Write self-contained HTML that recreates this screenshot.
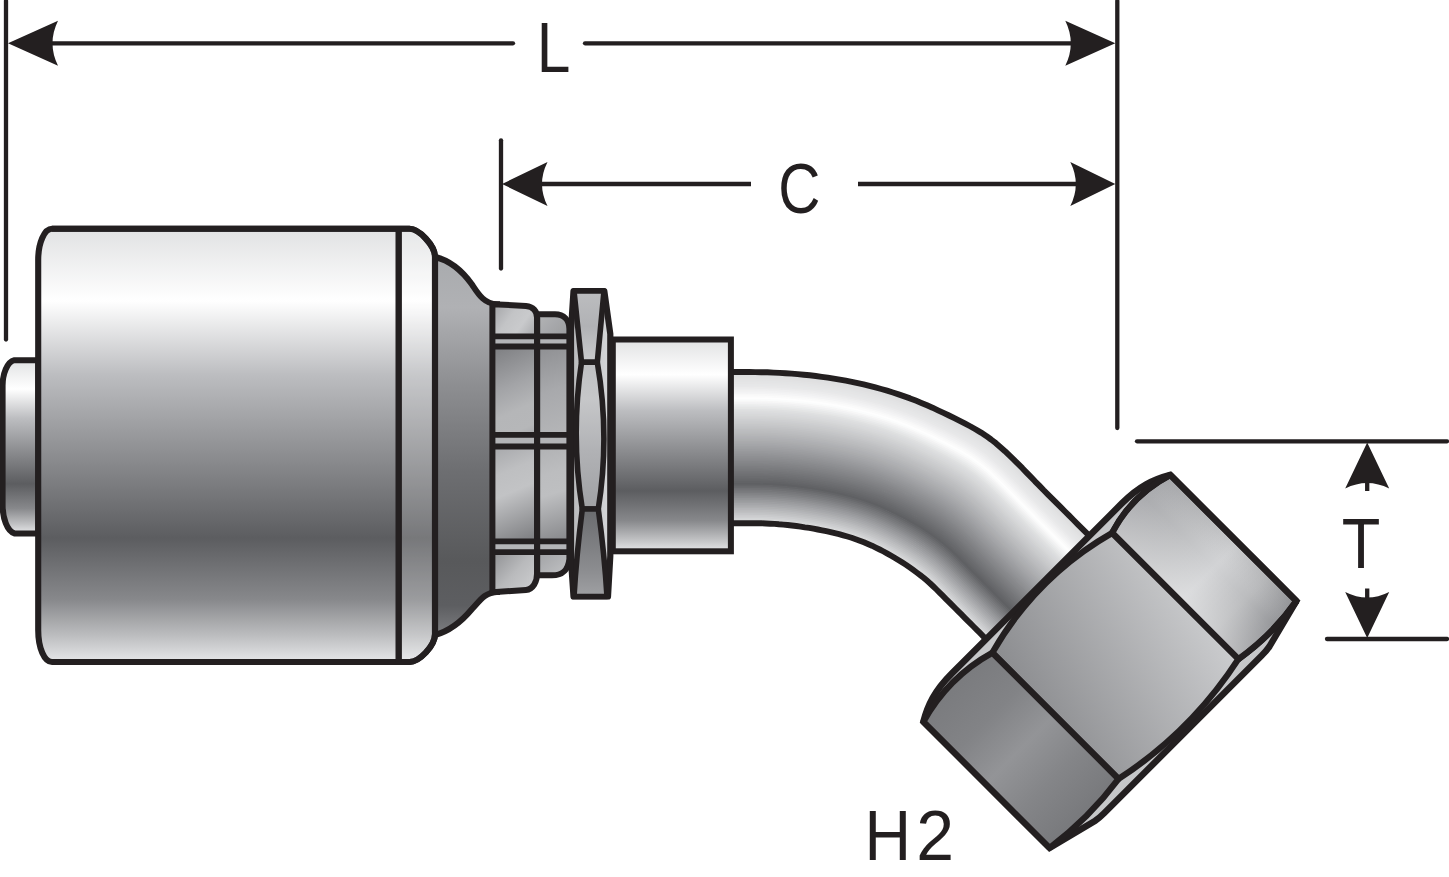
<!DOCTYPE html>
<html><head><meta charset="utf-8"><title>Hose fitting diagram</title>
<style>html,body{margin:0;padding:0;background:#fff}svg{display:block}text{font-family:"Liberation Sans",sans-serif}</style>
</head><body>
<svg width="1449" height="877" viewBox="0 0 1449 877">
<defs><linearGradient id="gBody" gradientUnits="userSpaceOnUse" x1="0" y1="229" x2="0" y2="662"><stop offset="0" stop-color="#e1e2e3"/><stop offset="0.166" stop-color="#ffffff"/><stop offset="0.337" stop-color="#bcbdc0"/><stop offset="0.5" stop-color="#929396"/><stop offset="0.714" stop-color="#5c5d60"/><stop offset="0.855" stop-color="#87888b"/><stop offset="0.94" stop-color="#bdbec0"/><stop offset="0.985" stop-color="#dcdddf"/><stop offset="1" stop-color="#e6e7e8"/></linearGradient><linearGradient id="gStub" gradientUnits="userSpaceOnUse" x1="0" y1="360.2" x2="0" y2="533.4"><stop offset="0" stop-color="#e1e2e3"/><stop offset="0.166" stop-color="#ffffff"/><stop offset="0.337" stop-color="#bcbdc0"/><stop offset="0.5" stop-color="#929396"/><stop offset="0.714" stop-color="#5c5d60"/><stop offset="0.855" stop-color="#87888b"/><stop offset="0.94" stop-color="#bdbec0"/><stop offset="0.985" stop-color="#dcdddf"/><stop offset="1" stop-color="#e6e7e8"/></linearGradient><linearGradient id="gCyl" gradientUnits="userSpaceOnUse" x1="0" y1="339.5" x2="0" y2="551.3"><stop offset="0" stop-color="#e1e2e3"/><stop offset="0.166" stop-color="#ffffff"/><stop offset="0.337" stop-color="#bcbdc0"/><stop offset="0.5" stop-color="#929396"/><stop offset="0.714" stop-color="#5c5d60"/><stop offset="0.855" stop-color="#87888b"/><stop offset="0.94" stop-color="#bdbec0"/><stop offset="0.985" stop-color="#dcdddf"/><stop offset="1" stop-color="#e6e7e8"/></linearGradient><linearGradient id="gSh" gradientUnits="userSpaceOnUse" x1="0" y1="258" x2="0" y2="633"><stop offset="0" stop-color="#a9abae"/><stop offset="0.133" stop-color="#b0b1b4"/><stop offset="0.334" stop-color="#8e8f92"/><stop offset="0.571" stop-color="#6d6e71"/><stop offset="0.809" stop-color="#58595b"/><stop offset="0.927" stop-color="#5d5e61"/><stop offset="1" stop-color="#7b7c7f"/></linearGradient><linearGradient id="gF1" gradientUnits="userSpaceOnUse" x1="-88" y1="0" x2="88" y2="0"><stop offset="0" stop-color="#abacaf"/><stop offset="0.3" stop-color="#bfc0c2"/><stop offset="0.55" stop-color="#d2d3d5"/><stop offset="0.8" stop-color="#bbbcbe"/><stop offset="1" stop-color="#999a9d"/></linearGradient><linearGradient id="gF2" gradientUnits="userSpaceOnUse" x1="-24.9" y1="93.7" x2="28.7" y2="-107.7"><stop offset="0" stop-color="#8b8c8f"/><stop offset="1" stop-color="#cbccce"/></linearGradient><linearGradient id="gF1o" gradientUnits="userSpaceOnUse" x1="0" y1="-174" x2="0" y2="-92"><stop offset="0" stop-color="#000" stop-opacity="0.05"/><stop offset="0.4" stop-color="#fff" stop-opacity="0"/><stop offset="1" stop-color="#fff" stop-opacity="0.28"/></linearGradient><linearGradient id="gF3" gradientUnits="userSpaceOnUse" x1="-88" y1="0" x2="88" y2="0"><stop offset="0" stop-color="#7b7c7f"/><stop offset="0.25" stop-color="#828386"/><stop offset="0.5" stop-color="#939497"/><stop offset="0.75" stop-color="#848588"/><stop offset="1" stop-color="#797a7d"/></linearGradient></defs>
<rect width="1449" height="877" fill="#fff"/>
<!-- dimension lines -->
<g stroke="#231f20" stroke-width="4.3" fill="none" stroke-linecap="round">
<path d="M6 1V339.5"/>
<path d="M1117.3 1V428"/>
<path d="M501 140.3V268.5"/>
<path d="M40 43.3H513"/><path d="M585 43.3H1085"/>
<path d="M535 184H751" stroke-linecap="butt"/><path d="M858 184H1085" stroke-linecap="butt"/>
<path d="M1137 441.3H1447"/><path d="M1327 639H1447"/>
<path d="M1367.2 480V491" stroke-linecap="butt"/><path d="M1367.2 588.5V600" stroke-linecap="butt"/>
</g>
<path transform="translate(8 43.3) rotate(0)" d="M0 0 L50 -22.5 Q39.0 0 50 22.5Z" fill="#231f20"/><path transform="translate(1115.3 43.3) rotate(180)" d="M0 0 L50 -22.5 Q39.0 0 50 22.5Z" fill="#231f20"/>
<path transform="translate(502 184) rotate(0)" d="M0 0 L45.5 -22.0 Q34.5 0 45.5 22.0Z" fill="#231f20"/><path transform="translate(1115.3 184) rotate(180)" d="M0 0 L45 -22.0 Q34.0 0 45 22.0Z" fill="#231f20"/>
<path transform="translate(1367.2 442.5) rotate(90)" d="M0 0 L46 -22.0 Q35.0 0 46 22.0Z" fill="#231f20"/><path transform="translate(1367.2 638) rotate(-90)" d="M0 0 L46 -22.0 Q35.0 0 46 22.0Z" fill="#231f20"/>
<g font-family="Liberation Sans, sans-serif" font-size="71.2" fill="#231f20" text-anchor="middle">
<text transform="translate(553.6 72.1) scale(0.85 1)">L</text>
<text transform="translate(799.4 212.6) scale(0.82 1)">C</text>
<text transform="translate(1361 568) scale(0.887 1)">T</text>
<text transform="translate(887.7 860.4) scale(0.906 1)">H</text><text transform="translate(935.2 860.4) scale(0.954 1)">2</text>
</g>
<!-- stub -->
<path d="M38.3 360.2H14.4C7 362 2.6 374 2.6 385.5V505C2.6 518 7 531 14.4 533.4H38.3Z" fill="url(#gStub)" stroke="#231f20" stroke-width="6"/>
<!-- pipe -->
<path d="M731.0 372.0L743.0 372.0L754.9 372.1L766.9 372.3L778.9 372.8L790.8 373.6L802.7 374.6L814.6 375.9L826.5 377.4L838.3 379.3L850.1 381.5L861.8 384.0L873.4 386.8L884.9 390.0L896.3 393.6L907.6 397.5L918.8 401.8L929.8 406.5L940.7 411.5L951.4 416.8L962.1 422.1L972.7 427.7L983.0 433.8L992.8 440.8L1001.9 448.4L1010.7 456.6L1019.2 465.0L1027.6 473.6L1035.9 482.2L1044.3 490.7L1052.7 499.2L1061.2 507.7L1069.6 516.1L1078.1 524.6L1086.5 533.0L1095.0 541.5L1093.3 543.2L1084.9 534.8L1076.4 526.4L1068.0 518.0L1059.6 509.5L1051.2 501.1L1042.8 492.7L1034.4 484.2L1026.2 475.6L1017.8 467.1L1009.4 458.7L1000.6 450.6L991.5 443.0L981.8 436.1L971.6 430.0L961.1 424.4L950.4 419.0L939.7 413.8L928.9 408.9L917.9 404.2L906.8 399.9L895.6 396.0L884.2 392.5L872.7 389.3L861.1 386.4L849.5 383.9L837.8 381.8L826.0 379.9L814.2 378.4L802.4 377.1L790.5 376.1L778.6 375.3L766.7 374.8L754.8 374.6L742.9 374.5L731.0 374.5Z" fill="#dbdcdd"/>
<path d="M731.0 373.7L742.9 373.7L754.9 373.7L766.8 374.0L778.7 374.5L790.6 375.2L802.5 376.2L814.4 377.5L826.2 379.1L838.0 381.0L849.7 383.1L861.4 385.6L872.9 388.5L884.4 391.6L895.8 395.2L907.1 399.1L918.2 403.4L929.2 408.1L940.0 413.1L950.8 418.3L961.4 423.6L972.0 429.2L982.2 435.3L991.9 442.2L1001.1 449.9L1009.8 458.0L1018.3 466.4L1026.6 474.9L1034.9 483.5L1043.3 492.0L1051.7 500.5L1060.1 508.9L1068.6 517.3L1077.0 525.8L1085.4 534.2L1093.9 542.6L1092.1 544.4L1083.7 536.0L1075.3 527.6L1067.0 519.2L1058.6 510.8L1050.2 502.4L1041.8 494.0L1033.5 485.5L1025.2 477.0L1016.9 468.5L1008.5 460.1L999.8 452.1L990.7 444.4L981.0 437.6L970.8 431.5L960.3 425.9L949.7 420.6L939.0 415.4L928.3 410.4L917.3 405.8L906.3 401.5L895.0 397.6L883.7 394.1L872.3 390.9L860.7 388.1L849.1 385.6L837.5 383.4L825.7 381.6L814.0 380.0L802.2 378.7L790.3 377.7L778.5 377.0L766.6 376.5L754.7 376.3L742.9 376.2L731.0 376.2Z" fill="#dcddde"/>
<path d="M731.0 375.4L742.9 375.4L754.8 375.4L766.7 375.7L778.6 376.2L790.4 376.9L802.3 377.9L814.1 379.2L825.9 380.7L837.6 382.6L849.3 384.8L860.9 387.3L872.5 390.1L884.0 393.3L895.3 396.8L906.5 400.7L917.6 405.0L928.6 409.6L939.4 414.6L950.1 419.8L960.7 425.2L971.2 430.7L981.4 436.8L991.1 443.7L1000.2 451.3L1008.9 459.4L1017.4 467.8L1025.7 476.3L1034.0 484.8L1042.3 493.3L1050.7 501.7L1059.1 510.2L1067.5 518.6L1075.9 527.0L1084.3 535.4L1092.7 543.8L1091.0 545.5L1082.6 537.2L1074.3 528.8L1065.9 520.4L1057.5 512.0L1049.2 503.7L1040.8 495.3L1032.5 486.8L1024.3 478.3L1016.0 469.9L1007.6 461.5L998.9 453.5L989.8 445.9L980.2 439.1L970.0 433.0L959.6 427.4L949.0 422.1L938.4 416.9L927.6 412.0L916.8 407.3L905.7 403.1L894.5 399.2L883.2 395.7L871.8 392.5L860.3 389.7L848.8 387.2L837.1 385.1L825.4 383.2L813.7 381.7L801.9 380.4L790.1 379.4L778.3 378.7L766.5 378.2L754.7 377.9L742.8 377.9L731.0 377.9Z" fill="#dedfe0"/>
<path d="M731.0 377.0L742.9 377.0L754.7 377.1L766.6 377.3L778.4 377.8L790.2 378.6L802.0 379.6L813.8 380.8L825.6 382.4L837.3 384.3L848.9 386.4L860.5 388.9L872.0 391.7L883.5 394.9L894.8 398.4L906.0 402.3L917.0 406.6L928.0 411.2L938.7 416.2L949.4 421.3L960.0 426.7L970.4 432.2L980.6 438.3L990.3 445.2L999.4 452.8L1008.0 460.8L1016.5 469.2L1024.8 477.7L1033.0 486.2L1041.3 494.6L1049.7 503.0L1058.0 511.4L1066.4 519.8L1074.8 528.2L1083.2 536.6L1091.6 544.9L1089.8 546.7L1081.5 538.3L1073.2 530.0L1064.8 521.6L1056.5 513.3L1048.1 505.0L1039.8 496.6L1031.6 488.2L1023.3 479.7L1015.1 471.3L1006.7 463.0L998.1 454.9L989.0 447.4L979.4 440.5L969.3 434.5L958.9 429.0L948.3 423.6L937.7 418.5L927.0 413.5L916.2 408.9L905.2 404.7L894.0 400.8L882.8 397.3L871.4 394.1L859.9 391.3L848.4 388.9L836.8 386.7L825.1 384.9L813.4 383.3L801.7 382.1L790.0 381.1L778.2 380.4L766.4 379.9L754.6 379.6L742.8 379.6L731.0 379.6Z" fill="#e0e0e1"/>
<path d="M731.0 378.7L742.8 378.7L754.6 378.8L766.4 379.0L778.3 379.5L790.0 380.3L801.8 381.2L813.6 382.5L825.3 384.1L837.0 385.9L848.6 388.1L860.1 390.5L871.6 393.3L883.0 396.5L894.3 400.0L905.4 403.9L916.5 408.1L927.3 412.7L938.1 417.7L948.7 422.9L959.2 428.2L969.7 433.7L979.8 439.8L989.4 446.7L998.5 454.2L1007.2 462.3L1015.6 470.6L1023.8 479.0L1032.0 487.5L1040.3 495.9L1048.7 504.3L1057.0 512.7L1065.4 521.0L1073.7 529.4L1082.1 537.7L1090.4 546.1L1088.7 547.8L1080.4 539.5L1072.1 531.2L1063.8 522.9L1055.4 514.6L1047.1 506.2L1038.8 497.9L1030.6 489.5L1022.4 481.1L1014.2 472.6L1005.8 464.4L997.2 456.4L988.2 448.9L978.6 442.0L968.5 436.0L958.1 430.5L947.6 425.2L937.1 420.0L926.4 415.1L915.6 410.5L904.6 406.2L893.5 402.4L882.3 398.9L870.9 395.8L859.5 393.0L848.0 390.5L836.4 388.4L824.8 386.5L813.2 385.0L801.5 383.7L789.8 382.8L778.0 382.0L766.3 381.5L754.5 381.3L742.8 381.2L731.0 381.2Z" fill="#e2e2e3"/>
<path d="M731.0 380.4L742.8 380.4L754.6 380.4L766.3 380.7L778.1 381.2L789.9 381.9L801.6 382.9L813.3 384.2L825.0 385.7L836.6 387.5L848.2 389.7L859.7 392.2L871.2 394.9L882.5 398.1L893.8 401.6L904.9 405.4L915.9 409.7L926.7 414.3L937.4 419.2L948.0 424.4L958.5 429.7L968.9 435.2L979.0 441.3L988.6 448.1L997.6 455.7L1006.3 463.7L1014.7 472.0L1022.9 480.4L1031.1 488.9L1039.3 497.2L1047.6 505.6L1056.0 513.9L1064.3 522.3L1072.6 530.6L1080.9 538.9L1089.3 547.2L1087.6 549.0L1079.3 540.7L1071.0 532.4L1062.7 524.1L1054.4 515.8L1046.1 507.5L1037.9 499.2L1029.6 490.9L1021.5 482.4L1013.3 474.0L1005.0 465.8L996.4 457.8L987.3 450.3L977.8 443.5L967.8 437.5L957.4 432.0L947.0 426.7L936.4 421.6L925.8 416.6L915.0 412.0L904.1 407.8L893.0 404.0L881.8 400.5L870.5 397.4L859.1 394.6L847.6 392.2L836.1 390.0L824.5 388.2L812.9 386.7L801.3 385.4L789.6 384.4L777.9 383.7L766.2 383.2L754.4 383.0L742.7 382.9L731.0 382.9Z" fill="#e3e4e5"/>
<path d="M731.0 382.1L742.7 382.1L754.5 382.1L766.2 382.4L778.0 382.9L789.7 383.6L801.4 384.6L813.0 385.8L824.7 387.4L836.3 389.2L847.8 391.3L859.3 393.8L870.7 396.6L882.0 399.7L893.2 403.2L904.3 407.0L915.3 411.3L926.1 415.9L936.7 420.8L947.3 425.9L957.8 431.2L968.1 436.8L978.2 442.8L987.8 449.6L996.8 457.1L1005.4 465.1L1013.7 473.3L1021.9 481.8L1030.1 490.2L1038.4 498.6L1046.6 506.9L1054.9 515.2L1063.2 523.5L1071.5 531.8L1079.8 540.1L1088.1 548.4L1086.4 550.1L1078.2 541.9L1069.9 533.6L1061.6 525.3L1053.4 517.1L1045.1 508.8L1036.9 500.5L1028.7 492.2L1020.5 483.8L1012.4 475.4L1004.1 467.2L995.5 459.3L986.5 451.8L977.0 445.0L967.0 439.0L956.7 433.5L946.3 428.2L935.8 423.1L925.2 418.2L914.4 413.6L903.5 409.4L892.5 405.6L881.3 402.1L870.0 399.0L858.7 396.2L847.3 393.8L835.8 391.7L824.2 389.9L812.7 388.3L801.0 387.1L789.4 386.1L777.7 385.4L766.1 384.9L754.4 384.6L742.7 384.6L731.0 384.6Z" fill="#e5e5e6"/>
<path d="M731.0 383.8L742.7 383.8L754.4 383.8L766.1 384.1L777.8 384.5L789.5 385.3L801.1 386.2L812.8 387.5L824.4 389.0L835.9 390.8L847.5 393.0L858.9 395.4L870.3 398.2L881.6 401.3L892.7 404.8L903.8 408.6L914.7 412.8L925.5 417.4L936.1 422.3L946.6 427.5L957.0 432.8L967.4 438.3L977.4 444.3L986.9 451.1L995.9 458.6L1004.5 466.5L1012.8 474.7L1021.0 483.1L1029.2 491.5L1037.4 499.9L1045.6 508.2L1053.9 516.4L1062.2 524.7L1070.4 533.0L1078.7 541.3L1087.0 549.5L1085.3 551.3L1077.0 543.0L1068.8 534.8L1060.6 526.6L1052.3 518.3L1044.1 510.1L1035.9 501.8L1027.7 493.5L1019.6 485.2L1011.5 476.8L1003.2 468.6L994.6 460.7L985.7 453.3L976.2 446.5L966.2 440.5L956.0 435.0L945.6 429.8L935.1 424.6L924.5 419.8L913.8 415.2L903.0 411.0L892.0 407.2L880.8 403.7L869.6 400.6L858.3 397.9L846.9 395.4L835.4 393.3L823.9 391.5L812.4 390.0L800.8 388.7L789.2 387.8L777.6 387.0L765.9 386.6L754.3 386.3L742.6 386.3L731.0 386.3Z" fill="#e6e7e8"/>
<path d="M731.0 385.4L742.7 385.4L754.3 385.5L766.0 385.7L777.7 386.2L789.3 386.9L800.9 387.9L812.5 389.2L824.1 390.7L835.6 392.5L847.1 394.6L858.5 397.0L869.8 399.8L881.1 402.9L892.2 406.4L903.2 410.2L914.1 414.4L924.8 419.0L935.4 423.9L945.9 429.0L956.3 434.3L966.6 439.8L976.6 445.8L986.1 452.5L995.1 460.0L1003.6 467.9L1011.9 476.1L1020.1 484.5L1028.2 492.9L1036.4 501.2L1044.6 509.4L1052.8 517.7L1061.1 526.0L1069.3 534.2L1077.6 542.5L1085.8 550.7L1084.1 552.4L1075.9 544.2L1067.7 536.0L1059.5 527.8L1051.3 519.6L1043.1 511.4L1034.9 503.1L1026.8 494.9L1018.7 486.5L1010.6 478.2L1002.3 470.1L993.8 462.2L984.9 454.8L975.4 448.0L965.5 442.0L955.2 436.6L944.9 431.3L934.5 426.2L923.9 421.3L913.2 416.8L902.4 412.6L891.4 408.8L880.4 405.3L869.2 402.2L857.9 399.5L846.5 397.1L835.1 395.0L823.6 393.2L812.1 391.6L800.6 390.4L789.0 389.4L777.4 388.7L765.8 388.2L754.2 388.0L742.6 388.0L731.0 388.0Z" fill="#e8e8e9"/>
<path d="M731.0 387.1L742.6 387.1L754.3 387.2L765.9 387.4L777.5 387.9L789.1 388.6L800.7 389.6L812.3 390.8L823.8 392.3L835.3 394.1L846.7 396.3L858.1 398.7L869.4 401.4L880.6 404.5L891.7 408.0L902.7 411.8L913.5 416.0L924.2 420.5L934.8 425.4L945.2 430.5L955.6 435.8L965.8 441.3L975.8 447.3L985.3 454.0L994.2 461.5L1002.7 469.4L1011.0 477.5L1019.1 485.8L1027.2 494.2L1035.4 502.5L1043.6 510.7L1051.8 519.0L1060.0 527.2L1068.3 535.4L1076.5 543.6L1084.7 551.8L1083.0 553.6L1074.8 545.4L1066.6 537.2L1058.4 529.0L1050.3 520.8L1042.1 512.7L1033.9 504.4L1025.8 496.2L1017.7 487.9L1009.7 479.6L1001.4 471.5L992.9 463.6L984.0 456.2L974.6 449.5L964.7 443.5L954.5 438.1L944.2 432.8L933.8 427.7L923.3 422.9L912.7 418.3L901.9 414.2L890.9 410.4L879.9 406.9L868.7 403.9L857.5 401.1L846.2 398.7L834.8 396.6L823.3 394.8L811.9 393.3L800.4 392.1L788.8 391.1L777.3 390.4L765.7 389.9L754.1 389.7L742.6 389.6L731.0 389.6Z" fill="#ebebec"/>
<path d="M731.0 388.8L742.6 388.8L754.2 388.8L765.8 389.1L777.4 389.6L788.9 390.3L800.5 391.2L812.0 392.5L823.5 394.0L834.9 395.8L846.3 397.9L857.7 400.3L868.9 403.1L880.1 406.1L891.2 409.6L902.1 413.4L912.9 417.5L923.6 422.1L934.1 427.0L944.5 432.1L954.9 437.3L965.1 442.8L975.0 448.8L984.4 455.5L993.3 462.9L1001.9 470.8L1010.1 478.9L1018.2 487.2L1026.3 495.5L1034.4 503.8L1042.6 512.0L1050.8 520.2L1059.0 528.4L1067.2 536.6L1075.4 544.8L1083.6 553.0L1081.8 554.7L1073.7 546.6L1065.5 538.4L1057.4 530.3L1049.2 522.1L1041.1 513.9L1032.9 505.8L1024.8 497.5L1016.8 489.3L1008.7 481.0L1000.5 472.9L992.1 465.1L983.2 457.7L973.8 451.0L963.9 445.1L953.8 439.6L943.5 434.4L933.1 429.3L922.7 424.4L912.1 419.9L901.3 415.7L890.4 412.0L879.4 408.5L868.3 405.5L857.1 402.8L845.8 400.4L834.4 398.3L823.0 396.5L811.6 395.0L800.1 393.7L788.6 392.8L777.1 392.1L765.6 391.6L754.1 391.4L742.5 391.3L731.0 391.3Z" fill="#eeeeef"/>
<path d="M731.0 390.5L742.6 390.5L754.1 390.5L765.7 390.8L777.2 391.2L788.7 391.9L800.2 392.9L811.7 394.1L823.2 395.7L834.6 397.4L846.0 399.5L857.3 401.9L868.5 404.7L879.6 407.7L890.7 411.2L901.6 414.9L912.4 419.1L923.0 423.6L933.5 428.5L943.8 433.6L954.1 438.8L964.3 444.3L974.2 450.3L983.6 457.0L992.5 464.4L1001.0 472.2L1009.2 480.3L1017.3 488.6L1025.3 496.9L1033.4 505.1L1041.6 513.3L1049.7 521.5L1057.9 529.6L1066.1 537.8L1074.2 546.0L1082.4 554.1L1080.7 555.9L1072.6 547.7L1064.4 539.6L1056.3 531.5L1048.2 523.4L1040.1 515.2L1031.9 507.1L1023.9 498.9L1015.9 490.6L1007.8 482.4L999.6 474.3L991.2 466.5L982.4 459.2L973.0 452.5L963.2 446.6L953.0 441.1L942.8 435.9L932.5 430.8L922.1 426.0L911.5 421.5L900.8 417.3L889.9 413.6L878.9 410.2L867.8 407.1L856.7 404.4L845.4 402.0L834.1 399.9L822.7 398.1L811.3 396.6L799.9 395.4L788.5 394.4L777.0 393.7L765.5 393.3L754.0 393.0L742.5 393.0L731.0 393.0Z" fill="#f1f1f2"/>
<path d="M731.0 392.2L742.5 392.2L754.0 392.2L765.5 392.4L777.1 392.9L788.5 393.6L800.0 394.6L811.5 395.8L822.9 397.3L834.3 399.1L845.6 401.2L856.9 403.6L868.0 406.3L879.2 409.3L890.2 412.8L901.0 416.5L911.8 420.7L922.4 425.2L932.8 430.0L943.1 435.1L953.4 440.4L963.5 445.8L973.4 451.8L982.8 458.4L991.6 465.8L1000.1 473.6L1008.3 481.7L1016.3 489.9L1024.4 498.2L1032.4 506.4L1040.6 514.6L1048.7 522.7L1056.8 530.9L1065.0 539.0L1073.1 547.2L1081.3 555.3L1079.5 557.0L1071.4 548.9L1063.3 540.8L1055.2 532.7L1047.1 524.6L1039.0 516.5L1031.0 508.4L1022.9 500.2L1014.9 492.0L1006.9 483.8L998.8 475.7L990.3 468.0L981.5 460.7L972.2 454.0L962.4 448.1L952.3 442.6L942.1 437.4L931.8 432.4L921.4 427.5L910.9 423.0L900.2 418.9L889.4 415.1L878.4 411.8L867.4 408.7L856.2 406.0L845.0 403.6L833.8 401.6L822.4 399.8L811.1 398.3L799.7 397.1L788.3 396.1L776.8 395.4L765.4 395.0L753.9 394.7L742.5 394.7L731.0 394.7Z" fill="#f4f4f5"/>
<path d="M731.0 393.8L742.5 393.8L754.0 393.9L765.4 394.1L776.9 394.6L788.4 395.3L799.8 396.2L811.2 397.5L822.6 399.0L833.9 400.7L845.2 402.8L856.4 405.2L867.6 407.9L878.7 411.0L889.6 414.4L900.5 418.1L911.2 422.3L921.7 426.8L932.2 431.6L942.5 436.7L952.7 441.9L962.8 447.3L972.6 453.3L981.9 459.9L990.8 467.2L999.2 475.0L1007.4 483.1L1015.4 491.3L1023.4 499.5L1031.5 507.7L1039.5 515.9L1047.7 524.0L1055.8 532.1L1063.9 540.2L1072.0 548.3L1080.1 556.4L1078.4 558.2L1070.3 550.1L1062.3 542.0L1054.2 533.9L1046.1 525.9L1038.0 517.8L1030.0 509.7L1022.0 501.5L1014.0 493.4L1006.0 485.2L997.9 477.2L989.5 469.4L980.7 462.1L971.4 455.5L961.6 449.6L951.6 444.2L941.4 439.0L931.2 433.9L920.8 429.1L910.3 424.6L899.7 420.5L888.9 416.7L878.0 413.4L866.9 410.3L855.8 407.7L844.7 405.3L833.4 403.2L822.1 401.4L810.8 400.0L799.5 398.7L788.1 397.8L776.7 397.1L765.3 396.6L753.8 396.4L742.4 396.4L731.0 396.4Z" fill="#f8f8f8"/>
<path d="M731.0 395.5L742.4 395.5L753.9 395.6L765.3 395.8L776.8 396.3L788.2 397.0L799.6 397.9L811.0 399.1L822.3 400.6L833.6 402.4L844.8 404.5L856.0 406.8L867.2 409.5L878.2 412.6L889.1 415.9L899.9 419.7L910.6 423.8L921.1 428.3L931.5 433.1L941.8 438.2L951.9 443.4L962.0 448.8L971.8 454.7L981.1 461.4L989.9 468.7L998.3 476.5L1006.5 484.5L1014.5 492.7L1022.4 500.9L1030.5 509.0L1038.5 517.1L1046.6 525.2L1054.7 533.3L1062.8 541.4L1070.9 549.5L1079.0 557.6L1077.3 559.3L1069.2 551.3L1061.2 543.2L1053.1 535.2L1045.1 527.1L1037.0 519.1L1029.0 511.0L1021.0 502.9L1013.1 494.7L1005.1 486.6L997.0 478.6L988.6 470.9L979.9 463.6L970.6 457.0L960.9 451.1L950.9 445.7L940.7 440.5L930.5 435.5L920.2 430.7L909.7 426.2L899.1 422.1L888.3 418.3L877.5 415.0L866.5 412.0L855.4 409.3L844.3 406.9L833.1 404.9L821.8 403.1L810.6 401.6L799.2 400.4L787.9 399.5L776.5 398.8L765.2 398.3L753.8 398.1L742.4 398.0L731.0 398.0Z" fill="#fbfbfb"/>
<path d="M731.0 397.2L742.4 397.2L753.8 397.2L765.2 397.5L776.6 397.9L788.0 398.6L799.4 399.6L810.7 400.8L822.0 402.3L833.3 404.0L844.5 406.1L855.6 408.5L866.7 411.2L877.7 414.2L888.6 417.5L899.4 421.3L910.0 425.4L920.5 429.9L930.8 434.7L941.1 439.7L951.2 444.9L961.3 450.3L971.0 456.2L980.3 462.9L989.1 470.1L997.4 477.9L1005.6 485.9L1013.5 494.0L1021.5 502.2L1029.5 510.3L1037.5 518.4L1045.6 526.5L1053.6 534.6L1061.7 542.6L1069.8 550.7L1077.8 558.7L1076.1 560.5L1068.1 552.5L1060.1 544.4L1052.0 536.4L1044.0 528.4L1036.0 520.3L1028.0 512.3L1020.0 504.2L1012.1 496.1L1004.2 488.0L996.1 480.0L987.8 472.3L979.0 465.1L969.8 458.5L960.1 452.6L950.1 447.2L940.0 442.0L929.9 437.0L919.6 432.2L909.1 427.8L898.6 423.7L887.8 419.9L877.0 416.6L866.0 413.6L855.0 410.9L843.9 408.6L832.8 406.5L821.5 404.8L810.3 403.3L799.0 402.1L787.7 401.1L776.4 400.4L765.0 400.0L753.7 399.8L742.3 399.7L731.0 399.7Z" fill="#fefefe"/>
<path d="M731.0 398.9L742.4 398.9L753.7 398.9L765.1 399.1L776.5 399.6L787.8 400.3L799.1 401.2L810.4 402.4L821.7 403.9L832.9 405.7L844.1 407.7L855.2 410.1L866.3 412.8L877.2 415.8L888.1 419.1L898.8 422.9L909.4 427.0L919.9 431.4L930.2 436.2L940.4 441.3L950.5 446.4L960.5 451.8L970.2 457.7L979.5 464.3L988.2 471.6L996.6 479.3L1004.7 487.3L1012.6 495.4L1020.5 503.6L1028.5 511.6L1036.5 519.7L1044.5 527.7L1052.6 535.8L1060.6 543.8L1068.7 551.9L1076.7 559.9L1075.0 561.6L1067.0 553.6L1059.0 545.6L1051.0 537.6L1043.0 529.6L1035.0 521.6L1027.0 513.6L1019.1 505.6L1011.2 497.4L1003.3 489.4L995.2 481.4L986.9 473.8L978.2 466.5L969.0 460.0L959.3 454.1L949.4 448.7L939.3 443.6L929.2 438.5L918.9 433.8L908.5 429.3L898.0 425.2L887.3 421.5L876.5 418.2L865.6 415.2L854.6 412.6L843.5 410.2L832.4 408.2L821.2 406.4L810.0 404.9L798.8 403.7L787.5 402.8L776.2 402.1L764.9 401.7L753.6 401.4L742.3 401.4L731.0 401.4Z" fill="#fbfcfc"/>
<path d="M731.0 400.6L742.3 400.6L753.7 400.6L765.0 400.8L776.3 401.3L787.6 402.0L798.9 402.9L810.2 404.1L821.4 405.6L832.6 407.3L843.7 409.4L854.8 411.7L865.8 414.4L876.8 417.4L887.6 420.7L898.3 424.4L908.8 428.5L919.3 433.0L929.5 437.8L939.7 442.8L949.8 448.0L959.7 453.4L969.4 459.2L978.6 465.8L987.3 473.0L995.7 480.7L1003.7 488.7L1011.7 496.8L1019.6 504.9L1027.5 513.0L1035.5 521.0L1043.5 529.0L1051.5 537.0L1059.5 545.0L1067.5 553.0L1075.5 561.0L1073.8 562.8L1065.9 554.8L1057.9 546.8L1049.9 538.9L1041.9 530.9L1034.0 522.9L1026.0 514.9L1018.1 506.9L1010.3 498.8L1002.4 490.8L994.3 482.8L986.0 475.2L977.4 468.0L968.2 461.5L958.6 455.6L948.7 450.2L938.6 445.1L928.5 440.1L918.3 435.3L908.0 430.9L897.5 426.8L886.8 423.1L876.0 419.8L865.2 416.8L854.2 414.2L843.2 411.9L832.1 409.8L820.9 408.1L809.8 406.6L798.6 405.4L787.3 404.5L776.1 403.8L764.8 403.3L753.5 403.1L742.3 403.1L731.0 403.1Z" fill="#f7f7f7"/>
<path d="M731.0 402.2L742.3 402.2L753.6 402.3L764.9 402.5L776.2 402.9L787.4 403.6L798.7 404.6L809.9 405.8L821.1 407.2L832.3 409.0L843.4 411.0L854.4 413.4L865.4 416.0L876.3 419.0L887.1 422.3L897.7 426.0L908.3 430.1L918.6 434.5L928.9 439.3L939.0 444.3L949.0 449.5L959.0 454.9L968.6 460.7L977.8 467.3L986.5 474.5L994.8 482.1L1002.8 490.1L1010.7 498.1L1018.6 506.2L1026.5 514.3L1034.5 522.3L1042.5 530.3L1050.4 538.2L1058.4 546.2L1066.4 554.2L1074.4 562.2L1072.7 563.9L1064.7 556.0L1056.8 548.0L1048.8 540.1L1040.9 532.1L1033.0 524.2L1025.0 516.2L1017.2 508.2L1009.3 500.2L1001.5 492.1L993.5 484.3L985.2 476.7L976.5 469.5L967.4 463.0L957.8 457.1L947.9 451.8L938.0 446.6L927.9 441.6L917.7 436.9L907.4 432.5L896.9 428.4L886.3 424.7L875.6 421.4L864.7 418.5L853.8 415.8L842.8 413.5L831.8 411.5L820.7 409.7L809.5 408.3L798.3 407.1L787.1 406.1L775.9 405.5L764.7 405.0L753.5 404.8L742.2 404.8L731.0 404.8Z" fill="#f2f2f3"/>
<path d="M731.0 403.9L742.3 403.9L753.5 404.0L764.8 404.2L776.0 404.6L787.2 405.3L798.5 406.2L809.6 407.4L820.8 408.9L831.9 410.6L843.0 412.7L854.0 415.0L864.9 417.6L875.8 420.6L886.5 423.9L897.2 427.6L907.7 431.7L918.0 436.1L928.2 440.9L938.3 445.8L948.3 451.0L958.2 456.4L967.8 462.2L977.0 468.8L985.6 475.9L993.9 483.6L1001.9 491.4L1009.8 499.5L1017.6 507.6L1025.5 515.6L1033.5 523.6L1041.4 531.5L1049.4 539.5L1057.3 547.4L1065.3 555.4L1073.3 563.3L1071.5 565.1L1063.6 557.2L1055.7 549.2L1047.8 541.3L1039.9 533.4L1032.0 525.5L1024.1 517.5L1016.2 509.6L1008.4 501.5L1000.6 493.5L992.6 485.7L984.3 478.1L975.7 471.0L966.6 464.5L957.0 458.6L947.2 453.3L937.3 448.1L927.2 443.2L917.1 438.4L906.8 434.0L896.4 430.0L885.8 426.3L875.1 423.0L864.3 420.1L853.4 417.5L842.4 415.1L831.4 413.1L820.4 411.4L809.3 409.9L798.1 408.7L787.0 407.8L775.8 407.1L764.6 406.7L753.4 406.5L742.2 406.4L731.0 406.4Z" fill="#edeeee"/>
<path d="M731.0 405.6L742.2 405.6L753.4 405.6L764.6 405.9L775.9 406.3L787.1 407.0L798.2 407.9L809.4 409.1L820.5 410.6L831.6 412.3L842.6 414.3L853.6 416.6L864.5 419.3L875.3 422.2L886.0 425.5L896.6 429.2L907.1 433.2L917.4 437.7L927.6 442.4L937.6 447.4L947.6 452.5L957.4 457.9L967.0 463.7L976.1 470.2L984.8 477.4L993.0 485.0L1001.0 492.8L1008.9 500.9L1016.7 508.9L1024.6 516.9L1032.5 524.8L1040.4 532.8L1048.3 540.7L1056.2 548.6L1064.2 556.6L1072.1 564.5L1070.4 566.2L1062.5 558.3L1054.6 550.4L1046.7 542.5L1038.8 534.7L1030.9 526.8L1023.1 518.8L1015.2 510.9L1007.5 502.9L999.6 494.9L991.7 487.1L983.5 479.6L974.9 472.4L965.8 466.0L956.3 460.1L946.5 454.8L936.6 449.7L926.6 444.7L916.5 440.0L906.2 435.6L895.8 431.6L885.3 427.9L874.6 424.6L863.8 421.7L853.0 419.1L842.1 416.8L831.1 414.8L820.1 413.0L809.0 411.6L797.9 410.4L786.8 409.5L775.6 408.8L764.5 408.4L753.3 408.2L742.2 408.1L731.0 408.1Z" fill="#e8e9ea"/>
<path d="M731.0 407.3L742.2 407.3L753.4 407.3L764.5 407.5L775.7 408.0L786.9 408.6L798.0 409.6L809.1 410.8L820.2 412.2L831.2 413.9L842.2 416.0L853.2 418.3L864.0 420.9L874.8 423.8L885.5 427.1L896.1 430.8L906.5 434.8L916.8 439.2L926.9 443.9L936.9 448.9L946.8 454.0L956.7 459.4L966.2 465.2L975.3 471.7L983.9 478.8L992.1 486.4L1000.1 494.2L1007.9 502.2L1015.7 510.2L1023.6 518.2L1031.5 526.1L1039.3 534.0L1047.3 541.9L1055.2 549.8L1063.1 557.7L1071.0 565.6L1069.2 567.4L1061.4 559.5L1053.5 551.6L1045.7 543.8L1037.8 535.9L1029.9 528.0L1022.1 520.2L1014.3 512.2L1006.5 504.3L998.7 496.3L990.8 488.5L982.6 481.0L974.0 473.9L965.0 467.4L955.5 461.6L945.8 456.3L935.9 451.2L925.9 446.3L915.8 441.6L905.6 437.2L895.2 433.2L884.7 429.5L874.1 426.2L863.4 423.3L852.6 420.7L841.7 418.4L830.7 416.4L819.8 414.7L808.7 413.3L797.7 412.1L786.6 411.2L775.5 410.5L764.4 410.0L753.2 409.8L742.1 409.8L731.0 409.8Z" fill="#e4e5e5"/>
<path d="M731.0 409.0L742.1 409.0L753.3 409.0L764.4 409.2L775.6 409.6L786.7 410.3L797.8 411.2L808.9 412.4L819.9 413.9L830.9 415.6L841.9 417.6L852.8 419.9L863.6 422.5L874.4 425.4L885.0 428.7L895.5 432.4L905.9 436.4L916.2 440.8L926.2 445.5L936.2 450.4L946.1 455.6L955.9 460.9L965.4 466.7L974.5 473.2L983.0 480.3L991.2 487.8L999.2 495.6L1007.0 503.6L1014.8 511.6L1022.6 519.5L1030.4 527.4L1038.3 535.3L1046.2 543.2L1054.1 551.0L1061.9 558.9L1069.8 566.8L1068.1 568.5L1060.3 560.7L1052.4 552.8L1044.6 545.0L1036.8 537.2L1028.9 529.3L1021.1 521.5L1013.3 513.6L1005.6 505.6L997.8 497.7L989.9 489.9L981.8 482.4L973.2 475.4L964.2 468.9L954.7 463.2L945.0 457.8L935.2 452.7L925.3 447.8L915.2 443.1L905.0 438.7L894.7 434.7L884.2 431.1L873.6 427.9L862.9 424.9L852.2 422.3L841.3 420.1L830.4 418.1L819.5 416.4L808.5 414.9L797.4 413.7L786.4 412.8L775.3 412.2L764.3 411.7L753.2 411.5L742.1 411.5L731.0 411.5Z" fill="#dfe0e1"/>
<path d="M731.0 410.6L742.1 410.6L753.2 410.7L764.3 410.9L775.4 411.3L786.5 412.0L797.6 412.9L808.6 414.1L819.6 415.5L830.6 417.2L841.5 419.2L852.4 421.5L863.2 424.1L873.9 427.0L884.5 430.3L895.0 433.9L905.3 438.0L915.5 442.3L925.6 447.0L935.5 452.0L945.4 457.1L955.1 462.4L964.6 468.2L973.6 474.6L982.2 481.7L990.4 489.2L998.3 497.0L1006.0 505.0L1013.8 512.9L1021.6 520.8L1029.4 528.7L1037.3 536.5L1045.1 544.4L1053.0 552.2L1060.8 560.1L1068.7 567.9L1067.0 569.7L1059.1 561.9L1051.3 554.1L1043.5 546.2L1035.7 538.4L1027.9 530.6L1020.1 522.8L1012.4 514.9L1004.6 507.0L996.9 499.1L989.0 491.4L980.9 483.9L972.4 476.9L963.4 470.4L954.0 464.7L944.3 459.4L934.5 454.3L924.6 449.4L914.6 444.7L904.4 440.3L894.1 436.3L883.7 432.7L873.2 429.5L862.5 426.6L851.7 424.0L840.9 421.7L830.1 419.7L819.2 418.0L808.2 416.6L797.2 415.4L786.2 414.5L775.2 413.8L764.1 413.4L753.1 413.2L742.0 413.2L731.0 413.2Z" fill="#dcddde"/>
<path d="M731.0 412.3L742.1 412.3L753.1 412.4L764.2 412.6L775.3 413.0L786.3 413.7L797.3 414.6L808.3 415.7L819.3 417.2L830.2 418.9L841.1 420.9L852.0 423.2L862.7 425.7L873.4 428.7L884.0 431.9L894.4 435.5L904.7 439.5L914.9 443.9L924.9 448.6L934.8 453.5L944.7 458.6L954.4 463.9L963.8 469.7L972.8 476.1L981.3 483.2L989.5 490.7L997.4 498.4L1005.1 506.3L1012.8 514.2L1020.6 522.1L1028.4 530.0L1036.2 537.8L1044.1 545.6L1051.9 553.4L1059.7 561.3L1067.5 569.1L1065.8 570.8L1058.0 563.0L1050.2 555.3L1042.5 547.5L1034.7 539.7L1026.9 531.9L1019.1 524.1L1011.4 516.3L1003.7 508.4L996.0 500.5L988.2 492.8L980.0 485.3L971.6 478.3L962.6 471.9L953.2 466.2L943.6 460.9L933.8 455.8L924.0 450.9L914.0 446.2L903.9 441.9L893.6 437.9L883.2 434.3L872.7 431.1L862.0 428.2L851.3 425.6L840.6 423.3L829.7 421.4L818.9 419.7L807.9 418.2L797.0 417.1L786.0 416.2L775.0 415.5L764.0 415.1L753.0 414.9L742.0 414.8L731.0 414.8Z" fill="#d9dadc"/>
<path d="M731.0 414.0L742.0 414.0L753.1 414.0L764.1 414.2L775.1 414.7L786.1 415.3L797.1 416.2L808.1 417.4L819.0 418.8L829.9 420.5L840.8 422.5L851.5 424.8L862.3 427.4L872.9 430.3L883.5 433.5L893.9 437.1L904.2 441.1L914.3 445.5L924.3 450.1L934.2 455.0L943.9 460.1L953.6 465.4L963.0 471.2L972.0 477.6L980.5 484.6L988.6 492.1L996.5 499.8L1004.2 507.7L1011.9 515.6L1019.6 523.4L1027.4 531.2L1035.2 539.1L1043.0 546.9L1050.8 554.7L1058.6 562.5L1066.4 570.2L1064.7 572.0L1056.9 564.2L1049.2 556.5L1041.4 548.7L1033.6 540.9L1025.9 533.2L1018.1 525.4L1010.4 517.6L1002.8 509.7L995.1 501.9L987.3 494.2L979.2 486.8L970.7 479.8L961.8 473.4L952.5 467.7L942.8 462.4L933.1 457.3L923.3 452.4L913.4 447.8L903.3 443.5L893.0 439.5L882.7 435.9L872.2 432.7L861.6 429.8L850.9 427.2L840.2 425.0L829.4 423.0L818.6 421.3L807.7 419.9L796.8 418.7L785.8 417.8L774.9 417.2L763.9 416.8L752.9 416.6L742.0 416.5L731.0 416.5Z" fill="#d7d8d9"/>
<path d="M731.0 415.7L742.0 415.7L753.0 415.7L764.0 415.9L775.0 416.3L785.9 417.0L796.9 417.9L807.8 419.1L818.7 420.5L829.6 422.2L840.4 424.2L851.1 426.4L861.8 429.0L872.4 431.9L882.9 435.1L893.3 438.7L903.6 442.7L913.7 447.0L923.6 451.7L933.5 456.6L943.2 461.6L952.8 466.9L962.2 472.7L971.1 479.1L979.6 486.1L987.7 493.5L995.6 501.2L1003.2 509.0L1010.9 516.9L1018.6 524.7L1026.4 532.5L1034.2 540.3L1041.9 548.1L1049.7 555.9L1057.5 563.6L1065.2 571.4L1063.5 573.1L1055.8 565.4L1048.1 557.7L1040.3 549.9L1032.6 542.2L1024.9 534.5L1017.2 526.7L1009.5 518.9L1001.8 511.1L994.2 503.3L986.4 495.6L978.3 488.2L969.9 481.3L961.0 474.9L951.7 469.2L942.1 463.9L932.4 458.9L922.6 454.0L912.7 449.3L902.7 445.0L892.5 441.1L882.2 437.5L871.7 434.3L861.2 431.4L850.5 428.9L839.8 426.6L829.1 424.7L818.3 423.0L807.4 421.6L796.5 420.4L785.6 419.5L774.7 418.8L763.8 418.4L752.9 418.2L741.9 418.2L731.0 418.2Z" fill="#d4d5d6"/>
<path d="M731.0 417.4L742.0 417.4L752.9 417.4L763.9 417.6L774.8 418.0L785.7 418.7L796.7 419.6L807.5 420.7L818.4 422.1L829.2 423.8L840.0 425.8L850.7 428.1L861.4 430.6L872.0 433.5L882.4 436.7L892.8 440.3L903.0 444.2L913.0 448.6L923.0 453.2L932.8 458.1L942.5 463.2L952.1 468.4L961.4 474.2L970.3 480.5L978.8 487.5L986.8 494.9L994.6 502.6L1002.3 510.4L1010.0 518.3L1017.7 526.1L1025.4 533.8L1033.1 541.6L1040.9 549.3L1048.6 557.1L1056.4 564.8L1064.1 572.5L1062.4 574.3L1054.7 566.6L1047.0 558.9L1039.3 551.2L1031.6 543.4L1023.9 535.7L1016.2 528.0L1008.5 520.3L1000.9 512.5L993.3 504.7L985.5 497.0L977.5 489.7L969.1 482.8L960.2 476.4L950.9 470.7L941.4 465.4L931.7 460.4L922.0 455.5L912.1 450.9L902.1 446.6L891.9 442.7L881.6 439.1L871.2 435.9L860.7 433.0L850.1 430.5L839.5 428.3L828.7 426.3L818.0 424.6L807.2 423.2L796.3 422.1L785.5 421.2L774.6 420.5L763.7 420.1L752.8 419.9L741.9 419.9L731.0 419.9Z" fill="#d1d2d3"/>
<path d="M731.0 419.0L741.9 419.0L752.8 419.1L763.7 419.3L774.7 419.7L785.6 420.3L796.4 421.2L807.3 422.4L818.1 423.8L828.9 425.5L839.6 427.4L850.3 429.7L860.9 432.2L871.5 435.1L881.9 438.3L892.2 441.9L902.4 445.8L912.4 450.1L922.3 454.8L932.1 459.6L941.8 464.7L951.3 469.9L960.6 475.7L969.5 482.0L977.9 489.0L985.9 496.3L993.7 504.0L1001.4 511.8L1009.0 519.6L1016.7 527.4L1024.4 535.1L1032.1 542.8L1039.8 550.5L1047.5 558.3L1055.2 566.0L1063.0 573.7L1061.2 575.4L1053.6 567.7L1045.9 560.1L1038.2 552.4L1030.5 544.7L1022.8 537.0L1015.2 529.3L1007.6 521.6L1000.0 513.8L992.4 506.1L984.6 498.5L976.6 491.1L968.2 484.2L959.4 477.9L950.2 472.2L940.7 467.0L931.0 461.9L921.3 457.1L911.5 452.5L901.5 448.2L891.4 444.2L881.1 440.7L870.8 437.5L860.3 434.7L849.7 432.1L839.1 429.9L828.4 428.0L817.7 426.3L806.9 424.9L796.1 423.7L785.3 422.8L774.4 422.2L763.6 421.8L752.7 421.6L741.9 421.6L731.0 421.6Z" fill="#cecfd1"/>
<path d="M731.0 420.7L741.9 420.7L752.8 420.8L763.6 420.9L774.5 421.4L785.4 422.0L796.2 422.9L807.0 424.1L817.8 425.5L828.6 427.1L839.3 429.1L849.9 431.3L860.5 433.9L871.0 436.7L881.4 439.9L891.7 443.4L901.8 447.4L911.8 451.7L921.7 456.3L931.4 461.2L941.0 466.2L950.5 471.5L959.8 477.2L968.6 483.5L977.0 490.4L985.1 497.7L992.8 505.4L1000.4 513.1L1008.0 520.9L1015.7 528.7L1023.4 536.4L1031.0 544.1L1038.7 551.8L1046.4 559.5L1054.1 567.2L1061.8 574.8L1060.1 576.6L1052.4 568.9L1044.8 561.3L1037.1 553.6L1029.5 546.0L1021.8 538.3L1014.2 530.6L1006.6 522.9L999.0 515.2L991.5 507.5L983.7 499.9L975.7 492.6L967.4 485.7L958.6 479.4L949.4 473.7L939.9 468.5L930.3 463.5L920.7 458.6L910.9 454.0L900.9 449.7L890.8 445.8L880.6 442.3L870.3 439.1L859.8 436.3L849.3 433.8L838.7 431.6L828.1 429.6L817.4 427.9L806.6 426.5L795.9 425.4L785.1 424.5L774.3 423.9L763.5 423.5L752.6 423.3L741.8 423.2L731.0 423.2Z" fill="#cbccce"/>
<path d="M731.0 422.4L741.8 422.4L752.7 422.4L763.5 422.6L774.4 423.0L785.2 423.7L796.0 424.6L806.8 425.7L817.5 427.1L828.2 428.8L838.9 430.7L849.5 433.0L860.0 435.5L870.5 438.3L880.9 441.5L891.1 445.0L901.2 449.0L911.2 453.2L921.0 457.8L930.7 462.7L940.3 467.7L949.8 473.0L959.0 478.7L967.8 485.0L976.2 491.9L984.2 499.2L991.9 506.8L999.5 514.5L1007.1 522.3L1014.7 530.0L1022.3 537.7L1030.0 545.3L1037.7 553.0L1045.3 560.7L1053.0 568.3L1060.7 576.0L1059.0 577.7L1051.3 570.1L1043.7 562.5L1036.1 554.8L1028.4 547.2L1020.8 539.6L1013.2 531.9L1005.6 524.3L998.1 516.6L990.5 508.9L982.9 501.3L974.9 494.0L966.6 487.2L957.8 480.9L948.6 475.2L939.2 470.0L929.7 465.0L920.0 460.2L910.3 455.6L900.3 451.3L890.3 447.4L880.1 443.9L869.8 440.7L859.4 437.9L848.9 435.4L838.3 433.2L827.7 431.3L817.1 429.6L806.4 428.2L795.6 427.1L784.9 426.2L774.1 425.5L763.4 425.1L752.6 425.0L741.8 424.9L731.0 424.9Z" fill="#c9cacb"/>
<path d="M731.0 424.1L741.8 424.1L752.6 424.1L763.4 424.3L774.2 424.7L785.0 425.3L795.8 426.2L806.5 427.4L817.2 428.8L827.9 430.4L838.5 432.4L849.1 434.6L859.6 437.1L870.0 439.9L880.4 443.1L890.6 446.6L900.6 450.5L910.6 454.8L920.3 459.4L930.0 464.2L939.6 469.2L949.0 474.5L958.2 480.1L967.0 486.4L975.3 493.3L983.3 500.6L991.0 508.2L998.6 515.9L1006.1 523.6L1013.7 531.3L1021.3 538.9L1029.0 546.6L1036.6 554.2L1044.2 561.9L1051.9 569.5L1059.5 577.1L1057.8 578.9L1050.2 571.3L1042.6 563.7L1035.0 556.1L1027.4 548.5L1019.8 540.9L1012.2 533.3L1004.7 525.6L997.2 517.9L989.6 510.2L982.0 502.7L974.0 495.5L965.7 488.6L957.0 482.4L947.9 476.7L938.5 471.5L929.0 466.5L919.4 461.7L909.6 457.1L899.8 452.9L889.7 449.0L879.6 445.5L869.3 442.3L858.9 439.5L848.5 437.0L838.0 434.8L827.4 432.9L816.8 431.3L806.1 429.9L795.4 428.7L784.7 427.9L774.0 427.2L763.2 426.8L752.5 426.6L741.7 426.6L731.0 426.6Z" fill="#c6c7c9"/>
<path d="M731.0 425.8L741.8 425.8L752.5 425.8L763.3 426.0L774.1 426.4L784.8 427.0L795.5 427.9L806.2 429.0L816.9 430.4L827.6 432.1L838.1 434.0L848.7 436.2L859.2 438.7L869.5 441.5L879.8 444.7L890.0 448.2L900.1 452.1L909.9 456.4L919.7 460.9L929.3 465.8L938.8 470.8L948.2 476.0L957.4 481.6L966.1 487.9L974.5 494.8L982.4 502.0L990.1 509.5L997.6 517.2L1005.2 524.9L1012.7 532.6L1020.3 540.2L1027.9 547.8L1035.5 555.5L1043.2 563.1L1050.8 570.7L1058.4 578.3L1056.7 580.0L1049.1 572.5L1041.5 564.9L1033.9 557.3L1026.4 549.7L1018.8 542.2L1011.2 534.6L1003.7 526.9L996.2 519.3L988.7 511.6L981.1 504.1L973.2 496.9L964.9 490.1L956.2 483.9L947.1 478.2L937.7 473.0L928.3 468.1L918.7 463.2L909.0 458.7L899.2 454.5L889.2 450.6L879.1 447.1L868.8 443.9L858.5 441.1L848.1 438.7L837.6 436.5L827.1 434.6L816.5 432.9L805.8 431.5L795.2 430.4L784.5 429.5L773.8 428.9L763.1 428.5L752.4 428.3L741.7 428.3L731.0 428.3Z" fill="#c3c4c6"/>
<path d="M731.0 427.4L741.7 427.4L752.5 427.5L763.2 427.7L773.9 428.1L784.6 428.7L795.3 429.6L806.0 430.7L816.6 432.1L827.2 433.7L837.8 435.7L848.3 437.9L858.7 440.3L869.1 443.1L879.3 446.3L889.5 449.8L899.5 453.7L909.3 457.9L919.0 462.5L928.6 467.3L938.1 472.3L947.5 477.5L956.6 483.1L965.3 489.4L973.6 496.2L981.5 503.4L989.2 510.9L996.7 518.6L1004.2 526.3L1011.7 533.9L1019.3 541.5L1026.9 549.1L1034.5 556.7L1042.1 564.3L1049.6 571.9L1057.2 579.4L1055.5 581.2L1048.0 573.6L1040.4 566.1L1032.9 558.5L1025.3 551.0L1017.8 543.4L1010.3 535.9L1002.8 528.3L995.3 520.6L987.8 513.0L980.2 505.6L972.3 498.4L964.1 491.6L955.4 485.4L946.3 479.8L937.0 474.6L927.6 469.6L918.0 464.8L908.4 460.2L898.6 456.0L888.6 452.2L878.6 448.7L868.3 445.5L858.0 442.8L847.7 440.3L837.2 438.1L826.7 436.2L816.2 434.6L805.6 433.2L795.0 432.1L784.3 431.2L773.7 430.6L763.0 430.2L752.3 430.0L741.7 430.0L731.0 430.0Z" fill="#c0c1c3"/>
<path d="M731.0 429.1L741.7 429.1L752.4 429.2L763.1 429.3L773.8 429.7L784.4 430.4L795.1 431.2L805.7 432.4L816.3 433.7L826.9 435.4L837.4 437.3L847.9 439.5L858.3 442.0L868.6 444.7L878.8 447.9L888.9 451.4L898.9 455.2L908.7 459.5L918.4 464.0L927.9 468.8L937.4 473.8L946.7 479.0L955.8 484.6L964.5 490.9L972.7 497.6L980.6 504.8L988.3 512.3L995.8 520.0L1003.2 527.6L1010.7 535.2L1018.3 542.8L1025.8 550.4L1033.4 557.9L1041.0 565.5L1048.5 573.0L1056.1 580.6L1054.4 582.3L1046.9 574.8L1039.3 567.3L1031.8 559.8L1024.3 552.2L1016.8 544.7L1009.3 537.2L1001.8 529.6L994.4 522.0L986.9 514.4L979.3 507.0L971.5 499.8L963.2 493.1L954.6 486.9L945.6 481.3L936.3 476.1L926.9 471.1L917.4 466.3L907.8 461.8L898.0 457.6L888.1 453.7L878.0 450.3L867.9 447.2L857.6 444.4L847.3 441.9L836.8 439.8L826.4 437.9L815.9 436.2L805.3 434.9L794.7 433.7L784.1 432.9L773.5 432.2L762.9 431.8L752.3 431.7L741.6 431.6L731.0 431.6Z" fill="#bdbec0"/>
<path d="M731.0 430.8L741.7 430.8L752.3 430.8L763.0 431.0L773.6 431.4L784.2 432.0L794.9 432.9L805.5 434.0L816.0 435.4L826.5 437.0L837.0 438.9L847.5 441.1L857.8 443.6L868.1 446.4L878.3 449.5L888.4 452.9L898.3 456.8L908.1 461.0L917.7 465.6L927.2 470.4L936.7 475.3L945.9 480.5L955.0 486.1L963.7 492.3L971.9 499.1L979.8 506.3L987.4 513.7L994.8 521.3L1002.3 529.0L1009.8 536.5L1017.3 544.1L1024.8 551.6L1032.3 559.1L1039.9 566.7L1047.4 574.2L1054.9 581.7L1053.2 583.5L1045.7 576.0L1038.2 568.5L1030.7 561.0L1023.3 553.5L1015.8 546.0L1008.3 538.5L1000.8 531.0L993.4 523.4L986.0 515.8L978.4 508.4L970.6 501.3L962.4 494.5L953.8 488.4L944.8 482.8L935.6 477.6L926.2 472.7L916.7 467.9L907.1 463.4L897.4 459.2L887.5 455.3L877.5 451.9L867.4 448.8L857.2 446.0L846.8 443.6L836.5 441.4L826.0 439.5L815.6 437.9L805.1 436.5L794.5 435.4L784.0 434.5L773.4 433.9L762.8 433.5L752.2 433.4L741.6 433.3L731.0 433.3Z" fill="#bbbcbe"/>
<path d="M731.0 432.5L741.6 432.5L752.2 432.5L762.8 432.7L773.5 433.1L784.1 433.7L794.6 434.6L805.2 435.7L815.7 437.1L826.2 438.7L836.7 440.6L847.1 442.7L857.4 445.2L867.6 448.0L877.8 451.1L887.8 454.5L897.7 458.4L907.5 462.6L917.1 467.1L926.5 471.9L935.9 476.8L945.2 482.0L954.2 487.6L962.8 493.8L971.0 500.5L978.9 507.7L986.5 515.1L993.9 522.7L1001.3 530.3L1008.8 537.8L1016.3 545.4L1023.8 552.9L1031.3 560.4L1038.8 567.9L1046.3 575.4L1053.8 582.9L1052.1 584.6L1044.6 577.2L1037.1 569.7L1029.7 562.2L1022.2 554.8L1014.8 547.3L1007.3 539.8L999.9 532.3L992.5 524.7L985.1 517.2L977.5 509.8L969.7 502.7L961.6 496.0L953.0 489.9L944.0 484.3L934.8 479.1L925.5 474.2L916.1 469.4L906.5 464.9L896.8 460.7L887.0 456.9L877.0 453.5L866.9 450.4L856.7 447.6L846.4 445.2L836.1 443.0L825.7 441.2L815.3 439.5L804.8 438.2L794.3 437.1L783.8 436.2L773.2 435.6L762.7 435.2L752.1 435.0L741.6 435.0L731.0 435.0Z" fill="#b8b9bb"/>
<path d="M731.0 434.2L741.6 434.2L752.2 434.2L762.7 434.4L773.3 434.8L783.9 435.4L794.4 436.2L804.9 437.3L815.4 438.7L825.9 440.3L836.3 442.2L846.6 444.4L856.9 446.8L867.1 449.6L877.3 452.7L887.3 456.1L897.1 459.9L906.8 464.1L916.4 468.7L925.8 473.4L935.2 478.4L944.4 483.5L953.4 489.1L962.0 495.3L970.2 502.0L978.0 509.1L985.5 516.5L993.0 524.1L1000.4 531.6L1007.8 539.1L1015.3 546.6L1022.7 554.1L1030.2 561.6L1037.7 569.1L1045.2 576.6L1052.7 584.0L1050.9 585.8L1043.5 578.3L1036.1 570.9L1028.6 563.5L1021.2 556.0L1013.7 548.6L1006.3 541.1L998.9 533.6L991.6 526.1L984.2 518.6L976.7 511.2L968.9 504.2L960.7 497.5L952.2 491.4L943.3 485.8L934.1 480.6L924.8 475.7L915.4 471.0L905.9 466.5L896.2 462.3L886.4 458.5L876.5 455.1L866.4 452.0L856.3 449.3L846.0 446.8L835.7 444.7L825.4 442.8L815.0 441.2L804.5 439.8L794.1 438.7L783.6 437.9L773.1 437.3L762.6 436.9L752.0 436.7L741.5 436.7L731.0 436.7Z" fill="#b5b6b8"/>
<path d="M731.0 435.8L741.5 435.8L752.1 435.9L762.6 436.0L773.2 436.4L783.7 437.0L794.2 437.9L804.7 439.0L815.1 440.4L825.5 442.0L835.9 443.9L846.2 446.0L856.5 448.4L866.7 451.2L876.8 454.3L886.7 457.7L896.5 461.5L906.2 465.7L915.7 470.2L925.2 474.9L934.5 479.9L943.7 485.0L952.6 490.6L961.2 496.8L969.3 503.4L977.1 510.5L984.6 517.9L992.0 525.4L999.4 533.0L1006.8 540.5L1014.2 547.9L1021.7 555.4L1029.1 562.8L1036.6 570.3L1044.1 577.7L1051.5 585.2L1049.8 586.9L1042.4 579.5L1035.0 572.1L1027.6 564.7L1020.1 557.3L1012.7 549.8L1005.3 542.4L998.0 535.0L990.6 527.5L983.3 520.0L975.8 512.7L968.0 505.6L959.9 499.0L951.4 492.8L942.5 487.3L933.4 482.2L924.1 477.2L914.8 472.5L905.3 468.0L895.7 463.9L885.9 460.1L876.0 456.7L865.9 453.6L855.8 450.9L845.6 448.5L835.4 446.3L825.0 444.5L814.7 442.9L804.3 441.5L793.9 440.4L783.4 439.5L772.9 438.9L762.5 438.6L752.0 438.4L741.5 438.4L731.0 438.4Z" fill="#b2b3b6"/>
<path d="M731.0 437.5L741.5 437.5L752.0 437.5L762.5 437.7L773.0 438.1L783.5 438.7L794.0 439.6L804.4 440.7L814.8 442.0L825.2 443.6L835.5 445.5L845.8 447.6L856.0 450.1L866.2 452.8L876.2 455.9L886.2 459.3L896.0 463.1L905.6 467.3L915.1 471.7L924.5 476.5L933.7 481.4L942.9 486.5L951.8 492.1L960.3 498.2L968.4 504.9L976.2 511.9L983.7 519.3L991.1 526.8L998.4 534.3L1005.8 541.8L1013.2 549.2L1020.7 556.6L1028.1 564.1L1035.5 571.5L1042.9 578.9L1050.4 586.3L1048.7 588.1L1041.3 580.7L1033.9 573.3L1026.5 565.9L1019.1 558.5L1011.7 551.1L1004.3 543.7L997.0 536.3L989.7 528.8L982.4 521.4L974.9 514.1L967.2 507.1L959.1 500.4L950.6 494.3L941.7 488.8L932.6 483.7L923.4 478.8L914.1 474.1L904.7 469.6L895.1 465.4L885.3 461.7L875.5 458.2L865.5 455.2L855.4 452.5L845.2 450.1L835.0 448.0L824.7 446.1L814.4 444.5L804.0 443.2L793.6 442.1L783.2 441.2L772.8 440.6L762.3 440.2L751.9 440.1L741.4 440.0L731.0 440.0Z" fill="#afb0b3"/>
<path d="M731.0 439.2L741.5 439.2L751.9 439.2L762.4 439.4L772.9 439.8L783.3 440.4L793.7 441.2L804.1 442.3L814.5 443.7L824.9 445.3L835.2 447.1L845.4 449.3L855.6 451.7L865.7 454.4L875.7 457.5L885.6 460.9L895.4 464.7L905.0 468.8L914.4 473.3L923.8 478.0L933.0 482.9L942.1 488.1L951.0 493.6L959.5 499.7L967.6 506.3L975.3 513.4L982.8 520.7L990.2 528.2L997.5 535.6L1004.8 543.1L1012.2 550.5L1019.6 557.9L1027.0 565.3L1034.4 572.7L1041.8 580.1L1049.2 587.5L1047.5 589.2L1040.1 581.9L1032.8 574.5L1025.4 567.1L1018.1 559.8L1010.7 552.4L1003.4 545.0L996.0 537.6L988.7 530.2L981.4 522.8L974.0 515.5L966.3 508.5L958.2 501.9L949.8 495.8L941.0 490.3L931.9 485.2L922.7 480.3L913.5 475.6L904.0 471.1L894.5 467.0L884.8 463.2L874.9 459.8L865.0 456.8L854.9 454.1L844.8 451.7L834.6 449.6L824.4 447.8L814.1 446.2L803.8 444.8L793.4 443.7L783.0 442.9L772.6 442.3L762.2 441.9L751.8 441.7L741.4 441.7L731.0 441.7Z" fill="#adaeb0"/>
<path d="M731.0 440.9L741.4 440.9L751.9 440.9L762.3 441.1L772.7 441.4L783.1 442.1L793.5 442.9L803.9 444.0L814.2 445.3L824.5 446.9L834.8 448.8L845.0 450.9L855.2 453.3L865.2 456.0L875.2 459.0L885.1 462.5L894.8 466.2L904.4 470.4L913.8 474.8L923.1 479.5L932.3 484.4L941.4 489.6L950.2 495.1L958.7 501.2L966.7 507.8L974.5 514.8L981.9 522.1L989.2 529.5L996.5 537.0L1003.8 544.4L1011.2 551.8L1018.6 559.2L1026.0 566.5L1033.3 573.9L1040.7 581.3L1048.1 588.6L1046.4 590.4L1039.0 583.0L1031.7 575.7L1024.4 568.4L1017.0 561.0L1009.7 553.7L1002.4 546.3L995.1 539.0L987.8 531.6L980.5 524.2L973.1 516.9L965.4 510.0L957.4 503.4L949.0 497.3L940.2 491.8L931.2 486.7L922.0 481.8L912.8 477.1L903.4 472.7L893.9 468.6L884.2 464.8L874.4 461.4L864.5 458.4L854.5 455.7L844.4 453.4L834.2 451.3L824.0 449.4L813.8 447.8L803.5 446.5L793.2 445.4L782.8 444.6L772.5 444.0L762.1 443.6L751.7 443.4L741.4 443.4L731.0 443.4Z" fill="#aaabad"/>
<path d="M731.0 442.6L741.4 442.6L751.8 442.6L762.2 442.7L772.6 443.1L782.9 443.7L793.3 444.6L803.6 445.7L813.9 447.0L824.2 448.6L834.4 450.4L844.6 452.5L854.7 454.9L864.7 457.6L874.7 460.6L884.5 464.0L894.2 467.8L903.7 471.9L913.1 476.4L922.4 481.1L931.6 486.0L940.6 491.1L949.4 496.6L957.8 502.6L965.9 509.2L973.6 516.2L981.0 523.5L988.3 530.9L995.6 538.3L1002.9 545.7L1010.2 553.1L1017.5 560.4L1024.9 567.8L1032.2 575.1L1039.6 582.5L1046.9 589.8L1045.2 591.5L1037.9 584.2L1030.6 576.9L1023.3 569.6L1016.0 562.3L1008.7 555.0L1001.4 547.7L994.1 540.3L986.9 532.9L979.6 525.6L972.2 518.3L964.6 511.4L956.6 504.9L948.2 498.8L939.4 493.3L930.5 488.2L921.4 483.4L912.1 478.7L902.8 474.3L893.3 470.2L883.7 466.4L873.9 463.0L864.0 460.0L854.0 457.4L844.0 455.0L833.9 452.9L823.7 451.1L813.5 449.5L803.2 448.1L793.0 447.1L782.7 446.2L772.3 445.6L762.0 445.3L751.7 445.1L741.3 445.1L731.0 445.1Z" fill="#a7a8ab"/>
<path d="M731.0 444.2L741.4 444.2L751.7 444.3L762.1 444.4L772.4 444.8L782.7 445.4L793.1 446.2L803.4 447.3L813.6 448.6L823.9 450.2L834.1 452.1L844.2 454.2L854.3 456.5L864.3 459.2L874.2 462.2L884.0 465.6L893.6 469.4L903.1 473.5L912.5 477.9L921.7 482.6L930.8 487.5L939.8 492.6L948.6 498.1L957.0 504.1L965.0 510.7L972.7 517.6L980.1 524.9L987.3 532.2L994.6 539.6L1001.9 547.0L1009.2 554.3L1016.5 561.7L1023.8 569.0L1031.1 576.3L1038.5 583.6L1045.8 590.9L1044.1 592.7L1036.8 585.4L1029.5 578.1L1022.2 570.8L1014.9 563.5L1007.7 556.3L1000.4 549.0L993.2 541.6L985.9 534.3L978.7 527.0L971.4 519.8L963.7 512.8L955.8 506.3L947.4 500.3L938.7 494.8L929.7 489.8L920.7 484.9L911.5 480.2L902.2 475.8L892.7 471.7L883.1 468.0L873.4 464.6L863.5 461.6L853.6 459.0L843.6 456.6L833.5 454.5L823.4 452.7L813.2 451.1L803.0 449.8L792.7 448.7L782.5 447.9L772.2 447.3L761.9 446.9L751.6 446.8L741.3 446.8L731.0 446.8Z" fill="#a4a5a8"/>
<path d="M731.0 445.9L741.3 445.9L751.6 445.9L761.9 446.1L772.3 446.5L782.6 447.1L792.8 447.9L803.1 449.0L813.3 450.3L823.5 451.9L833.7 453.7L843.8 455.8L853.8 458.2L863.8 460.8L873.7 463.8L883.4 467.2L893.0 470.9L902.5 475.0L911.8 479.5L921.0 484.1L930.1 489.0L939.1 494.1L947.8 499.6L956.2 505.6L964.2 512.1L971.8 519.0L979.2 526.3L986.4 533.6L993.6 541.0L1000.9 548.3L1008.2 555.6L1015.5 562.9L1022.8 570.2L1030.1 577.5L1037.3 584.8L1044.6 592.1L1042.9 593.8L1035.7 586.6L1028.4 579.3L1021.2 572.1L1013.9 564.8L1006.7 557.5L999.4 550.3L992.2 543.0L985.0 535.7L977.8 528.3L970.5 521.2L962.9 514.3L954.9 507.8L946.6 501.8L937.9 496.4L929.0 491.3L920.0 486.4L910.8 481.8L901.6 477.4L892.1 473.3L882.6 469.6L872.9 466.2L863.1 463.2L853.2 460.6L843.2 458.3L833.1 456.2L823.0 454.4L812.9 452.8L802.7 451.5L792.5 450.4L782.3 449.6L772.0 449.0L761.8 448.6L751.5 448.5L741.3 448.4L731.0 448.4Z" fill="#a1a2a5"/>
<path d="M731.0 447.6L741.3 447.6L751.6 447.6L761.8 447.8L772.1 448.1L782.4 448.7L792.6 449.6L802.8 450.6L813.0 452.0L823.2 453.5L833.3 455.4L843.4 457.4L853.4 459.8L863.3 462.4L873.1 465.4L882.9 468.8L892.4 472.5L901.9 476.6L911.2 481.0L920.3 485.7L929.4 490.5L938.3 495.6L947.0 501.1L955.3 507.1L963.3 513.6L970.9 520.5L978.3 527.7L985.5 535.0L992.7 542.3L999.9 549.6L1007.2 556.9L1014.4 564.2L1021.7 571.4L1029.0 578.7L1036.2 586.0L1043.5 593.2L1041.8 595.0L1034.6 587.7L1027.3 580.5L1020.1 573.3L1012.9 566.1L1005.6 558.8L998.4 551.6L991.2 544.3L984.1 537.0L976.9 529.7L969.6 522.6L962.0 515.7L954.1 509.3L945.8 503.3L937.2 497.9L928.3 492.8L919.3 488.0L910.2 483.3L900.9 478.9L891.6 474.9L882.0 471.2L872.4 467.8L862.6 464.9L852.7 462.2L842.8 459.9L832.7 457.8L822.7 456.0L812.6 454.4L802.4 453.1L792.3 452.1L782.1 451.2L771.9 450.7L761.7 450.3L751.4 450.1L741.2 450.1L731.0 450.1Z" fill="#9e9fa2"/>
<path d="M731.0 449.3L741.2 449.3L751.5 449.3L761.7 449.5L772.0 449.8L782.2 450.4L792.4 451.2L802.6 452.3L812.7 453.6L822.9 455.2L832.9 457.0L843.0 459.1L852.9 461.4L862.8 464.1L872.6 467.0L882.3 470.4L891.9 474.1L901.2 478.2L910.5 482.6L919.6 487.2L928.6 492.0L937.5 497.1L946.2 502.6L954.5 508.5L962.4 515.0L970.0 521.9L977.4 529.0L984.5 536.3L991.7 543.7L998.9 550.9L1006.1 558.2L1013.4 565.4L1020.6 572.7L1027.9 579.9L1035.1 587.2L1042.4 594.4L1040.6 596.1L1033.4 588.9L1026.2 581.7L1019.0 574.5L1011.8 567.3L1004.6 560.1L997.4 552.9L990.3 545.7L983.1 538.4L976.0 531.1L968.7 524.0L961.1 517.2L953.3 510.7L945.0 504.8L936.4 499.4L927.5 494.3L918.6 489.5L909.5 484.9L900.3 480.5L891.0 476.4L881.5 472.7L871.9 469.4L862.1 466.5L852.3 463.8L842.4 461.5L832.4 459.5L822.4 457.7L812.3 456.1L802.2 454.8L792.1 453.7L781.9 452.9L771.7 452.3L761.6 452.0L751.4 451.8L741.2 451.8L731.0 451.8Z" fill="#9b9c9f"/>
<path d="M731.0 451.0L741.2 451.0L751.4 451.0L761.6 451.1L771.8 451.5L782.0 452.1L792.2 452.9L802.3 454.0L812.4 455.3L822.5 456.8L832.6 458.6L842.6 460.7L852.5 463.0L862.3 465.7L872.1 468.6L881.8 472.0L891.3 475.7L900.6 479.7L909.8 484.1L918.9 488.7L927.9 493.6L936.8 498.6L945.4 504.1L953.7 510.0L961.6 516.5L969.2 523.3L976.4 530.4L983.6 537.7L990.8 545.0L997.9 552.2L1005.1 559.5L1012.3 566.7L1019.6 573.9L1026.8 581.1L1034.0 588.3L1041.2 595.5L1039.5 597.3L1032.3 590.1L1025.1 582.9L1018.0 575.7L1010.8 568.6L1003.6 561.4L996.5 554.2L989.3 547.0L982.2 539.8L975.1 532.5L967.8 525.4L960.3 518.6L952.4 512.2L944.2 506.3L935.6 500.9L926.8 495.8L917.9 491.0L908.9 486.4L899.7 482.0L890.4 478.0L880.9 474.3L871.3 471.0L861.6 468.1L851.8 465.5L841.9 463.1L832.0 461.1L822.0 459.3L812.0 457.8L801.9 456.5L791.8 455.4L781.7 454.6L771.6 454.0L761.4 453.6L751.3 453.5L741.1 453.5L731.0 453.5Z" fill="#98999c"/>
<path d="M731.0 452.6L741.2 452.6L751.3 452.7L761.5 452.8L771.7 453.2L781.8 453.7L791.9 454.6L802.1 455.6L812.1 456.9L822.2 458.5L832.2 460.3L842.1 462.3L852.0 464.7L861.9 467.3L871.6 470.2L881.2 473.5L890.7 477.2L900.0 481.3L909.2 485.6L918.2 490.3L927.2 495.1L936.0 500.1L944.6 505.5L952.8 511.5L960.7 517.9L968.3 524.7L975.5 531.8L982.7 539.1L989.8 546.3L996.9 553.5L1004.1 560.7L1011.3 567.9L1018.5 575.1L1025.7 582.3L1032.9 589.5L1040.1 596.7L1038.3 598.4L1031.2 591.3L1024.1 584.1L1016.9 577.0L1009.8 569.8L1002.6 562.7L995.5 555.5L988.4 548.3L981.3 541.1L974.2 533.9L966.9 526.9L959.4 520.1L951.6 513.7L943.4 507.8L934.9 502.4L926.1 497.4L917.2 492.6L908.2 488.0L899.1 483.6L889.8 479.6L880.4 475.9L870.8 472.6L861.1 469.7L851.4 467.1L841.5 464.8L831.6 462.7L821.7 461.0L811.7 459.4L801.7 458.1L791.6 457.1L781.5 456.3L771.4 455.7L761.3 455.3L751.2 455.2L741.1 455.2L731.0 455.2Z" fill="#959699"/>
<path d="M731.0 454.3L741.1 454.3L751.3 454.3L761.4 454.5L771.5 454.8L781.6 455.4L791.7 456.2L801.8 457.3L811.8 458.6L821.8 460.1L831.8 461.9L841.7 464.0L851.6 466.3L861.4 468.9L871.1 471.8L880.7 475.1L890.1 478.8L899.4 482.8L908.5 487.2L917.5 491.8L926.5 496.6L935.2 501.6L943.8 507.0L952.0 513.0L959.9 519.4L967.4 526.1L974.6 533.2L981.7 540.4L988.8 547.7L996.0 554.9L1003.1 562.0L1010.3 569.2L1017.4 576.4L1024.6 583.5L1031.8 590.7L1038.9 597.8L1037.2 599.6L1030.1 592.5L1023.0 585.3L1015.8 578.2L1008.7 571.1L1001.6 564.0L994.5 556.8L987.4 549.7L980.3 542.5L973.3 535.3L966.1 528.3L958.6 521.5L950.8 515.2L942.6 509.3L934.1 503.9L925.4 498.9L916.5 494.1L907.5 489.5L898.5 485.2L889.2 481.1L879.8 477.5L870.3 474.2L860.7 471.3L850.9 468.7L841.1 466.4L831.3 464.4L821.3 462.6L811.4 461.1L801.4 459.8L791.4 458.7L781.3 457.9L771.3 457.3L761.2 457.0L751.1 456.9L741.1 456.8L731.0 456.8Z" fill="#929396"/>
<path d="M731.0 456.0L741.1 456.0L751.2 456.0L761.3 456.2L771.4 456.5L781.4 457.1L791.5 457.9L801.5 458.9L811.5 460.2L821.5 461.8L831.4 463.6L841.3 465.6L851.2 467.9L860.9 470.5L870.6 473.4L880.1 476.7L889.5 480.4L898.8 484.4L907.9 488.7L916.9 493.3L925.7 498.1L934.5 503.1L943.0 508.5L951.2 514.4L959.0 520.8L966.5 527.6L973.7 534.6L980.8 541.8L987.9 549.0L995.0 556.2L1002.1 563.3L1009.2 570.5L1016.4 577.6L1023.5 584.7L1030.6 591.9L1037.8 599.0L1036.1 600.7L1029.0 593.6L1021.9 586.5L1014.8 579.4L1007.7 572.3L1000.6 565.2L993.5 558.1L986.4 551.0L979.4 543.8L972.4 536.7L965.2 529.7L957.7 523.0L949.9 516.6L941.8 510.8L933.3 505.4L924.6 500.4L915.8 495.6L906.9 491.0L897.8 486.7L888.6 482.7L879.3 479.1L869.8 475.8L860.2 472.9L850.5 470.3L840.7 468.0L830.9 466.0L821.0 464.3L811.1 462.7L801.1 461.4L791.2 460.4L781.2 459.6L771.1 459.0L761.1 458.7L751.1 458.5L741.0 458.5L731.0 458.5Z" fill="#8f9093"/>
<path d="M731.0 457.7L741.1 457.7L751.1 457.7L761.2 457.8L771.2 458.2L781.2 458.8L791.3 459.6L801.3 460.6L811.2 461.9L821.2 463.4L831.1 465.2L840.9 467.2L850.7 469.5L860.4 472.1L870.0 475.0L879.6 478.3L888.9 481.9L898.1 485.9L907.2 490.3L916.2 494.9L925.0 499.6L933.7 504.6L942.2 510.0L950.4 515.9L958.1 522.3L965.6 529.0L972.8 536.0L979.9 543.2L986.9 550.3L994.0 557.5L1001.1 564.6L1008.2 571.7L1015.3 578.8L1022.4 585.9L1029.5 593.0L1036.6 600.1L1034.9 601.9L1027.8 594.8L1020.8 587.7L1013.7 580.7L1006.6 573.6L999.6 566.5L992.5 559.4L985.5 552.3L978.5 545.2L971.4 538.1L964.3 531.1L956.9 524.4L949.1 518.1L941.0 512.3L932.6 506.9L923.9 501.9L915.1 497.2L906.2 492.6L897.2 488.3L888.0 484.3L878.7 480.7L869.3 477.4L859.7 474.5L850.0 471.9L840.3 469.7L830.5 467.7L820.7 465.9L810.8 464.4L800.9 463.1L790.9 462.1L781.0 461.3L771.0 460.7L761.0 460.4L751.0 460.2L741.0 460.2L731.0 460.2Z" fill="#8c8d90"/>
<path d="M731.0 459.4L741.0 459.4L751.0 459.4L761.0 459.5L771.1 459.9L781.1 460.4L791.0 461.2L801.0 462.3L810.9 463.6L820.8 465.1L830.7 466.8L840.5 468.9L850.3 471.1L859.9 473.7L869.5 476.6L879.0 479.9L888.3 483.5L897.5 487.5L906.6 491.8L915.5 496.4L924.3 501.2L932.9 506.2L941.4 511.5L949.5 517.4L957.3 523.7L964.7 530.4L971.9 537.4L978.9 544.5L986.0 551.7L993.0 558.8L1000.1 565.9L1007.2 573.0L1014.2 580.1L1021.3 587.1L1028.4 594.2L1035.5 601.3L1033.8 603.0L1026.7 596.0L1019.7 588.9L1012.6 581.9L1005.6 574.9L998.6 567.8L991.5 560.8L984.5 553.7L977.5 546.6L970.5 539.5L963.4 532.5L956.0 525.9L948.3 519.6L940.2 513.8L931.8 508.4L923.2 503.4L914.4 498.7L905.6 494.1L896.6 489.8L887.5 485.9L878.2 482.2L868.8 479.0L859.2 476.1L849.6 473.6L839.9 471.3L830.1 469.3L820.3 467.6L810.5 466.0L800.6 464.8L790.7 463.7L780.8 462.9L770.8 462.4L760.9 462.0L750.9 461.9L741.0 461.9L731.0 461.9Z" fill="#898a8d"/>
<path d="M731.0 461.0L741.0 461.0L751.0 461.1L760.9 461.2L770.9 461.5L780.9 462.1L790.8 462.9L800.7 463.9L810.6 465.2L820.5 466.7L830.3 468.5L840.1 470.5L849.8 472.8L859.5 475.3L869.0 478.2L878.5 481.5L887.8 485.1L896.9 489.1L905.9 493.4L914.8 497.9L923.5 502.7L932.2 507.7L940.6 513.0L948.7 518.9L956.4 525.2L963.8 531.8L971.0 538.8L978.0 545.9L985.0 553.0L992.0 560.1L999.1 567.2L1006.1 574.2L1013.2 581.3L1020.2 588.3L1027.3 595.4L1034.3 602.4L1032.6 604.2L1025.6 597.2L1018.6 590.1L1011.6 583.1L1004.6 576.1L997.5 569.1L990.5 562.1L983.6 555.0L976.6 547.9L969.6 540.9L962.5 533.9L955.1 527.3L947.4 521.1L939.4 515.3L931.0 509.9L922.4 505.0L913.7 500.2L904.9 495.7L896.0 491.4L886.9 487.4L877.6 483.8L868.2 480.6L858.7 477.7L849.2 475.2L839.5 472.9L829.8 470.9L820.0 469.2L810.2 467.7L800.4 466.4L790.5 465.4L780.6 464.6L770.7 464.0L760.8 463.7L750.8 463.6L740.9 463.6L731.0 463.6Z" fill="#86878a"/>
<path d="M731.0 462.7L740.9 462.7L750.9 462.7L760.8 462.9L770.8 463.2L780.7 463.8L790.6 464.6L800.5 465.6L810.3 466.9L820.2 468.4L830.0 470.1L839.7 472.1L849.4 474.4L859.0 476.9L868.5 479.8L877.9 483.0L887.2 486.6L896.3 490.6L905.2 494.9L914.1 499.5L922.8 504.2L931.4 509.2L939.8 514.5L947.9 520.3L955.6 526.6L963.0 533.2L970.1 540.2L977.1 547.3L984.0 554.3L991.0 561.4L998.1 568.4L1005.1 575.5L1012.1 582.5L1019.1 589.5L1026.2 596.6L1033.2 603.6L1031.5 605.3L1024.5 598.3L1017.5 591.3L1010.5 584.4L1003.5 577.4L996.5 570.4L989.6 563.4L982.6 556.4L975.7 549.3L968.7 542.3L961.6 535.4L954.3 528.8L946.6 522.5L938.6 516.8L930.3 511.4L921.7 506.5L913.0 501.7L904.3 497.2L895.3 493.0L886.3 489.0L877.1 485.4L867.7 482.2L858.3 479.3L848.7 476.8L839.1 474.6L829.4 472.6L819.7 470.9L809.9 469.4L800.1 468.1L790.3 467.1L780.4 466.3L770.5 465.7L760.7 465.4L750.8 465.3L740.9 465.2L731.0 465.2Z" fill="#838487"/>
<path d="M731.0 464.4L740.9 464.4L750.8 464.4L760.7 464.5L770.6 464.9L780.5 465.4L790.4 466.2L800.2 467.3L810.0 468.5L819.8 470.0L829.6 471.8L839.3 473.8L848.9 476.0L858.5 478.5L868.0 481.4L877.4 484.6L886.6 488.2L895.7 492.2L904.6 496.4L913.4 501.0L922.1 505.7L930.6 510.7L939.0 516.0L947.0 521.8L954.7 528.0L962.1 534.7L969.2 541.6L976.1 548.6L983.1 555.7L990.0 562.7L997.0 569.7L1004.0 576.7L1011.0 583.7L1018.0 590.7L1025.1 597.7L1032.1 604.7L1030.3 606.5L1023.4 599.5L1016.4 592.5L1009.4 585.6L1002.5 578.6L995.5 571.7L988.6 564.7L981.6 557.7L974.7 550.7L967.8 543.7L960.8 536.8L953.4 530.2L945.8 524.0L937.8 518.2L929.5 512.9L921.0 508.0L912.4 503.3L903.6 498.8L894.7 494.5L885.7 490.6L876.5 487.0L867.2 483.8L857.8 480.9L848.3 478.4L838.7 476.2L829.0 474.2L819.3 472.5L809.6 471.0L799.8 469.7L790.0 468.7L780.2 467.9L770.4 467.4L760.5 467.1L750.7 466.9L740.8 466.9L731.0 466.9Z" fill="#808184"/>
<path d="M731.0 466.1L740.9 466.1L750.7 466.1L760.6 466.2L770.5 466.6L780.3 467.1L790.1 467.9L800.0 468.9L809.7 470.2L819.5 471.7L829.2 473.4L838.9 475.4L848.5 477.6L858.0 480.1L867.5 483.0L876.8 486.2L886.0 489.8L895.0 493.7L903.9 498.0L912.7 502.5L921.4 507.2L929.9 512.2L938.2 517.5L946.2 523.3L953.9 529.5L961.2 536.1L968.3 543.0L975.2 550.0L982.1 557.0L989.1 564.0L996.0 571.0L1003.0 578.0L1010.0 585.0L1017.0 591.9L1023.9 598.9L1030.9 605.9L1029.2 607.6L1022.3 600.7L1015.3 593.8L1008.4 586.8L1001.4 579.9L994.5 572.9L987.6 566.0L980.7 559.0L973.8 552.0L966.9 545.1L959.9 538.2L952.6 531.7L944.9 525.5L937.0 519.7L928.7 514.5L920.3 509.5L911.7 504.8L902.9 500.3L894.1 496.1L885.1 492.1L876.0 488.6L866.7 485.4L857.3 482.6L847.8 480.1L838.3 477.8L828.7 475.9L819.0 474.2L809.3 472.7L799.6 471.4L789.8 470.4L780.0 469.6L770.2 469.1L760.4 468.7L750.6 468.6L740.8 468.6L731.0 468.6Z" fill="#7d7e81"/>
<path d="M731.0 467.8L740.8 467.8L750.7 467.8L760.5 467.9L770.3 468.2L780.1 468.8L789.9 469.6L799.7 470.6L809.4 471.8L819.2 473.3L828.8 475.1L838.5 477.0L848.0 479.2L857.5 481.8L867.0 484.6L876.3 487.8L885.4 491.4L894.4 495.3L903.3 499.5L912.0 504.0L920.6 508.8L929.1 513.7L937.4 519.0L945.4 524.7L953.0 530.9L960.3 537.5L967.3 544.4L974.3 551.4L981.2 558.4L988.1 565.3L995.0 572.3L1002.0 579.2L1008.9 586.2L1015.9 593.1L1022.8 600.1L1029.8 607.0L1028.0 608.8L1021.1 601.9L1014.2 595.0L1007.3 588.0L1000.4 581.1L993.5 574.2L986.6 567.3L979.7 560.4L972.9 553.4L966.0 546.5L959.0 539.6L951.7 533.1L944.1 527.0L936.2 521.2L928.0 516.0L919.5 511.0L911.0 506.3L902.3 501.9L893.5 497.6L884.5 493.7L875.4 490.2L866.2 487.0L856.8 484.2L847.4 481.7L837.9 479.5L828.3 477.5L818.7 475.8L809.0 474.3L799.3 473.1L789.6 472.1L779.8 471.3L770.1 470.7L760.3 470.4L750.5 470.3L740.8 470.3L731.0 470.3Z" fill="#7a7b7e"/>
<path d="M731.0 469.4L740.8 469.4L750.6 469.5L760.4 469.6L770.2 469.9L779.9 470.4L789.7 471.2L799.4 472.2L809.1 473.5L818.8 475.0L828.5 476.7L838.1 478.7L847.6 480.9L857.1 483.4L866.4 486.2L875.7 489.4L884.8 492.9L893.8 496.8L902.6 501.1L911.3 505.6L919.9 510.3L928.4 515.2L936.6 520.5L944.5 526.2L952.1 532.4L959.4 538.9L966.4 545.8L973.3 552.7L980.2 559.7L987.1 566.6L994.0 573.6L1000.9 580.5L1007.9 587.4L1014.8 594.4L1021.7 601.3L1028.6 608.2L1026.9 609.9L1020.0 603.0L1013.1 596.2L1006.3 589.3L999.4 582.4L992.5 575.5L985.6 568.6L978.8 561.7L971.9 554.8L965.1 547.8L958.1 541.0L950.8 534.6L943.3 528.4L935.4 522.7L927.2 517.5L918.8 512.6L910.3 507.9L901.6 503.4L892.9 499.2L883.9 495.3L874.9 491.7L865.7 488.6L856.3 485.8L846.9 483.3L837.4 481.1L827.9 479.2L818.3 477.5L808.7 476.0L799.0 474.7L789.4 473.7L779.7 473.0L769.9 472.4L760.2 472.1L750.5 472.0L740.7 472.0L731.0 472.0Z" fill="#77787b"/>
<path d="M731.0 471.1L740.8 471.1L750.5 471.1L760.3 471.3L770.0 471.6L779.8 472.1L789.5 472.9L799.2 473.9L808.9 475.1L818.5 476.6L828.1 478.3L837.7 480.3L847.2 482.5L856.6 485.0L865.9 487.8L875.1 491.0L884.2 494.5L893.2 498.4L902.0 502.6L910.6 507.1L919.2 511.8L927.6 516.7L935.8 522.0L943.7 527.7L951.3 533.8L958.5 540.3L965.5 547.1L972.4 554.1L979.2 561.0L986.1 568.0L993.0 574.9L999.9 581.8L1006.8 588.7L1013.7 595.6L1020.6 602.5L1027.5 609.3L1025.8 611.1L1018.9 604.2L1012.0 597.4L1005.2 590.5L998.3 583.6L991.5 576.8L984.6 569.9L977.8 563.0L971.0 556.1L964.2 549.2L957.2 542.5L950.0 536.0L942.5 529.9L934.6 524.2L926.4 519.0L918.1 514.1L909.6 509.4L901.0 504.9L892.2 500.7L883.4 496.9L874.3 493.3L865.2 490.2L855.9 487.4L846.5 484.9L837.0 482.7L827.5 480.8L818.0 479.1L808.4 477.6L798.8 476.4L789.1 475.4L779.5 474.6L769.8 474.1L760.1 473.8L750.4 473.7L740.7 473.6L731.0 473.6Z" fill="#747578"/>
<path d="M731.0 472.8L740.7 472.8L750.4 472.8L760.1 472.9L769.9 473.2L779.6 473.8L789.2 474.6L798.9 475.6L808.6 476.8L818.2 478.3L827.7 480.0L837.2 481.9L846.7 484.1L856.1 486.6L865.4 489.4L874.6 492.5L883.7 496.1L892.6 500.0L901.3 504.2L909.9 508.6L918.4 513.3L926.8 518.2L935.0 523.5L942.9 529.2L950.4 535.3L957.7 541.8L964.6 548.5L971.4 555.4L978.3 562.4L985.1 569.3L992.0 576.1L998.9 583.0L1005.7 589.9L1012.6 596.8L1019.5 603.6L1026.3 610.5L1024.6 612.2L1017.8 605.4L1011.0 598.6L1004.1 591.7L997.3 584.9L990.5 578.1L983.6 571.2L976.8 564.4L970.0 557.5L963.3 550.6L956.3 543.9L949.1 537.5L941.6 531.4L933.8 525.7L925.7 520.5L917.4 515.6L908.9 510.9L900.3 506.5L891.6 502.3L882.8 498.4L873.8 494.9L864.6 491.8L855.4 489.0L846.0 486.5L836.6 484.4L827.2 482.4L817.7 480.7L808.1 479.3L798.5 478.1L788.9 477.1L779.3 476.3L769.6 475.8L760.0 475.4L750.3 475.3L740.7 475.3L731.0 475.3Z" fill="#717275"/>
<path d="M731.0 474.5L740.7 474.5L750.4 474.5L760.0 474.6L769.7 474.9L779.4 475.5L789.0 476.2L798.7 477.2L808.3 478.5L817.8 479.9L827.3 481.6L836.8 483.5L846.3 485.7L855.6 488.2L864.9 491.0L874.0 494.1L883.1 497.6L891.9 501.5L900.7 505.7L909.2 510.2L917.7 514.8L926.1 519.7L934.2 525.0L942.0 530.6L949.6 536.7L956.8 543.2L963.7 549.9L970.5 556.8L977.3 563.7L984.1 570.6L991.0 577.4L997.8 584.3L1004.7 591.1L1011.5 598.0L1018.3 604.8L1025.2 611.6L1023.5 613.4L1016.7 606.6L1009.9 599.8L1003.1 593.0L996.3 586.2L989.5 579.3L982.7 572.5L975.9 565.7L969.1 558.9L962.3 552.0L955.4 545.3L948.3 538.9L940.8 532.8L933.0 527.2L924.9 522.0L916.6 517.1L908.2 512.5L899.7 508.0L891.0 503.9L882.2 500.0L873.2 496.5L864.1 493.4L854.9 490.6L845.6 488.2L836.2 486.0L826.8 484.1L817.3 482.4L807.8 480.9L798.3 479.7L788.7 478.7L779.1 478.0L769.5 477.4L759.9 477.1L750.2 477.0L740.6 477.0L731.0 477.0Z" fill="#6e6f72"/>
<path d="M731.0 476.2L740.6 476.2L750.3 476.2L759.9 476.3L769.6 476.6L779.2 477.1L788.8 477.9L798.4 478.9L808.0 480.1L817.5 481.6L827.0 483.3L836.4 485.2L845.8 487.3L855.1 489.8L864.4 492.6L873.5 495.7L882.5 499.2L891.3 503.1L900.0 507.3L908.5 511.7L917.0 516.4L925.3 521.2L933.4 526.5L941.2 532.1L948.7 538.2L955.9 544.6L962.8 551.3L969.6 558.2L976.4 565.0L983.1 571.9L990.0 578.7L996.8 585.5L1003.6 592.3L1010.4 599.2L1017.2 606.0L1024.0 612.8L1022.3 614.5L1015.5 607.7L1008.8 601.0L1002.0 594.2L995.2 587.4L988.4 580.6L981.7 573.8L974.9 567.0L968.2 560.2L961.4 553.4L954.6 546.7L947.4 540.3L940.0 534.3L932.2 528.7L924.1 523.5L915.9 518.6L907.5 514.0L899.0 509.6L890.4 505.4L881.6 501.6L872.7 498.1L863.6 495.0L854.4 492.2L845.2 489.8L835.8 487.6L826.4 485.7L817.0 484.0L807.5 482.6L798.0 481.4L788.5 480.4L778.9 479.6L769.3 479.1L759.8 478.8L750.2 478.7L740.6 478.7L731.0 478.7Z" fill="#6b6c6f"/>
<path d="M731.0 477.8L740.6 477.8L750.2 477.9L759.8 478.0L769.4 478.3L779.0 478.8L788.6 479.6L798.1 480.5L807.7 481.8L817.1 483.2L826.6 484.9L836.0 486.8L845.4 489.0L854.7 491.4L863.9 494.2L872.9 497.3L881.9 500.8L890.7 504.6L899.3 508.8L907.9 513.2L916.3 517.9L924.5 522.8L932.6 528.0L940.4 533.6L947.8 539.6L955.0 546.0L961.9 552.7L968.6 559.5L975.4 566.4L982.2 573.2L988.9 580.0L995.7 586.8L1002.5 593.6L1009.3 600.4L1016.1 607.2L1022.9 613.9L1021.2 615.7L1014.4 608.9L1007.7 602.2L1000.9 595.4L994.2 588.7L987.4 581.9L980.7 575.2L974.0 568.4L967.2 561.6L960.5 554.8L953.7 548.1L946.6 541.8L939.1 535.8L931.4 530.2L923.4 525.0L915.2 520.2L906.8 515.5L898.4 511.1L889.8 507.0L881.0 503.1L872.1 499.7L863.1 496.6L853.9 493.8L844.7 491.4L835.4 489.3L826.0 487.4L816.6 485.7L807.2 484.3L797.7 483.0L788.2 482.1L778.7 481.3L769.2 480.8L759.6 480.5L750.1 480.4L740.5 480.4L731.0 480.4Z" fill="#68696c"/>
<path d="M731.0 479.5L740.6 479.5L750.1 479.5L759.7 479.6L769.3 479.9L778.8 480.5L788.4 481.2L797.9 482.2L807.4 483.4L816.8 484.9L826.2 486.5L835.6 488.4L844.9 490.6L854.2 493.0L863.3 495.8L872.4 498.9L881.3 502.3L890.1 506.2L898.7 510.3L907.2 514.8L915.5 519.4L923.8 524.3L931.8 529.5L939.5 535.1L947.0 541.1L954.1 547.4L961.0 554.1L967.7 560.9L974.4 567.7L981.2 574.5L987.9 581.3L994.7 588.0L1001.5 594.8L1008.2 601.6L1015.0 608.3L1021.8 615.1L1020.0 616.8L1013.3 610.1L1006.6 603.4L999.9 596.6L993.1 589.9L986.4 583.2L979.7 576.5L973.0 569.7L966.3 563.0L959.6 556.2L952.8 549.6L945.7 543.2L938.3 537.3L930.6 531.7L922.6 526.5L914.4 521.7L906.1 517.1L897.7 512.7L889.1 508.5L880.4 504.7L871.6 501.2L862.6 498.2L853.5 495.4L844.3 493.0L835.0 490.9L825.7 489.0L816.3 487.3L806.9 485.9L797.5 484.7L788.0 483.7L778.5 483.0L769.0 482.5L759.5 482.2L750.0 482.1L740.5 482.0L731.0 482.0Z" fill="#656669"/>
<path d="M731.0 481.2L740.5 481.2L750.1 481.2L759.6 481.3L769.1 481.6L778.6 482.1L788.1 482.9L797.6 483.9L807.1 485.1L816.5 486.5L825.9 488.2L835.2 490.1L844.5 492.2L853.7 494.6L862.8 497.4L871.8 500.5L880.7 503.9L889.4 507.7L898.0 511.9L906.5 516.3L914.8 520.9L923.0 525.8L931.0 530.9L938.7 536.5L946.1 542.5L953.2 548.9L960.1 555.5L966.8 562.3L973.5 569.1L980.2 575.8L986.9 582.6L993.7 589.3L1000.4 596.0L1007.1 602.8L1013.9 609.5L1020.6 616.2L1018.9 618.0L1012.2 611.3L1005.5 604.6L998.8 597.9L992.1 591.2L985.4 584.5L978.7 577.8L972.0 571.1L965.4 564.3L958.7 557.6L951.9 551.0L944.8 544.7L937.5 538.7L929.8 533.2L921.8 528.0L913.7 523.2L905.4 518.6L897.0 514.2L888.5 510.1L879.8 506.3L871.0 502.8L862.1 499.8L853.0 497.0L843.8 494.6L834.6 492.5L825.3 490.6L816.0 489.0L806.6 487.6L797.2 486.4L787.8 485.4L778.3 484.6L768.9 484.1L759.4 483.8L749.9 483.7L740.5 483.7L731.0 483.7Z" fill="#626366"/>
<path d="M731.0 482.9L740.5 482.9L750.0 482.9L759.5 483.0L769.0 483.3L778.4 483.8L787.9 484.6L797.3 485.5L806.8 486.7L816.1 488.2L825.5 489.8L834.8 491.7L844.0 493.8L853.2 496.2L862.3 499.0L871.3 502.0L880.1 505.5L888.8 509.3L897.4 513.4L905.8 517.8L914.1 522.4L922.2 527.3L930.2 532.4L937.9 538.0L945.3 544.0L952.4 550.3L959.2 556.9L965.8 563.6L972.5 570.4L979.2 577.1L985.9 583.8L992.6 590.6L999.3 597.3L1006.0 604.0L1012.8 610.7L1019.5 617.4L1017.8 619.1L1011.1 612.5L1004.4 605.8L997.7 599.1L991.1 592.4L984.4 585.8L977.7 579.1L971.1 572.4L964.4 565.7L957.8 559.0L951.0 552.4L944.0 546.1L936.6 540.2L929.0 534.7L921.1 529.5L913.0 524.7L904.7 520.1L896.4 515.8L887.9 511.6L879.3 507.8L870.5 504.4L861.5 501.3L852.5 498.6L843.4 496.3L834.2 494.2L824.9 492.3L815.6 490.6L806.3 489.2L797.0 488.0L787.6 487.1L778.2 486.3L768.7 485.8L759.3 485.5L749.9 485.4L740.4 485.4L731.0 485.4Z" fill="#5f6063"/>
<path d="M731.0 484.6L740.5 484.6L749.9 484.6L759.4 484.7L768.8 485.0L778.3 485.5L787.7 486.2L797.1 487.2L806.5 488.4L815.8 489.8L825.1 491.5L834.4 493.3L843.6 495.5L852.7 497.8L861.8 500.5L870.7 503.6L879.5 507.1L888.2 510.9L896.7 515.0L905.1 519.4L913.3 524.0L921.5 528.8L929.4 533.9L937.0 539.5L944.4 545.4L951.5 551.7L958.2 558.3L964.9 565.0L971.6 571.7L978.2 578.4L984.9 585.1L991.6 591.8L998.3 598.5L1005.0 605.2L1011.6 611.9L1018.3 618.5L1016.6 620.3L1010.0 613.6L1003.3 607.0L996.7 600.3L990.0 593.7L983.4 587.0L976.7 580.4L970.1 573.7L963.5 567.0L956.9 560.4L950.1 553.8L943.1 547.6L935.8 541.7L928.2 536.2L920.3 531.1L912.3 526.2L904.1 521.7L895.7 517.3L887.3 513.2L878.7 509.4L869.9 506.0L861.0 502.9L852.0 500.3L842.9 497.9L833.8 495.8L824.6 493.9L815.3 492.3L806.0 490.9L796.7 489.7L787.3 488.7L778.0 488.0L768.6 487.5L759.2 487.2L749.8 487.1L740.4 487.1L731.0 487.1Z" fill="#646568"/>
<path d="M731.0 486.2L740.4 486.2L749.8 486.3L759.3 486.3L768.7 486.6L778.1 487.2L787.5 487.9L796.8 488.9L806.2 490.1L815.5 491.5L824.7 493.1L834.0 495.0L843.2 497.1L852.3 499.4L861.3 502.1L870.2 505.2L879.0 508.6L887.6 512.4L896.1 516.5L904.4 520.9L912.6 525.5L920.7 530.3L928.6 535.4L936.2 541.0L943.5 546.9L950.6 553.1L957.3 559.7L964.0 566.4L970.6 573.1L977.2 579.7L983.9 586.4L990.5 593.1L997.2 599.7L1003.9 606.4L1010.5 613.0L1017.2 619.7L1015.5 621.4L1008.8 614.8L1002.2 608.2L995.6 601.6L989.0 594.9L982.4 588.3L975.8 581.7L969.2 575.1L962.6 568.4L956.0 561.8L949.3 555.2L942.3 549.0L935.0 543.2L927.4 537.7L919.6 532.6L911.5 527.8L903.4 523.2L895.1 518.8L886.7 514.8L878.1 511.0L869.4 507.6L860.5 504.5L851.5 501.9L842.5 499.5L833.4 497.4L824.2 495.6L815.0 493.9L805.7 492.5L796.4 491.3L787.1 490.4L777.8 489.7L768.4 489.2L759.1 488.9L749.7 488.8L740.4 488.8L731.0 488.8Z" fill="#6a6b6e"/>
<path d="M731.0 487.9L740.4 487.9L749.8 487.9L759.1 488.0L768.5 488.3L777.9 488.8L787.2 489.6L796.6 490.5L805.9 491.7L815.1 493.1L824.4 494.8L833.6 496.6L842.7 498.7L851.8 501.1L860.8 503.7L869.6 506.8L878.4 510.2L887.0 514.0L895.4 518.1L903.7 522.4L911.9 527.0L919.9 531.8L927.8 536.9L935.4 542.4L942.7 548.3L949.7 554.5L956.4 561.1L963.0 567.7L969.6 574.4L976.2 581.0L982.9 587.7L989.5 594.3L996.1 601.0L1002.8 607.6L1009.4 614.2L1016.0 620.8L1014.3 622.6L1007.7 616.0L1001.1 609.4L994.5 602.8L987.9 596.2L981.4 589.6L974.8 583.0L968.2 576.4L961.6 569.8L955.1 563.2L948.4 556.7L941.4 550.5L934.1 544.6L926.6 539.2L918.8 534.1L910.8 529.3L902.7 524.7L894.4 520.4L886.0 516.3L877.5 512.6L868.8 509.2L860.0 506.1L851.1 503.5L842.0 501.1L833.0 499.1L823.8 497.2L814.6 495.6L805.4 494.2L796.2 493.0L786.9 492.1L777.6 491.3L768.3 490.8L759.0 490.5L749.6 490.5L740.3 490.4L731.0 490.4Z" fill="#707174"/>
<path d="M731.0 489.6L740.3 489.6L749.7 489.6L759.0 489.7L768.4 490.0L777.7 490.5L787.0 491.2L796.3 492.2L805.6 493.4L814.8 494.8L824.0 496.4L833.2 498.2L842.3 500.3L851.3 502.7L860.3 505.3L869.1 508.4L877.8 511.8L886.3 515.5L894.7 519.6L903.0 524.0L911.2 528.5L919.2 533.3L927.0 538.4L934.6 543.9L941.8 549.8L948.8 556.0L955.5 562.5L962.1 569.1L968.7 575.7L975.3 582.4L981.9 589.0L988.5 595.6L995.1 602.2L1001.7 608.8L1008.3 615.4L1014.9 622.0L1013.2 623.7L1006.6 617.2L1000.0 610.6L993.5 604.0L986.9 597.5L980.3 590.9L973.8 584.3L967.2 577.7L960.7 571.1L954.2 564.6L947.5 558.1L940.5 551.9L933.3 546.1L925.8 540.7L918.0 535.6L910.1 530.8L902.0 526.3L893.8 521.9L885.4 517.9L876.9 514.1L868.3 510.7L859.5 507.7L850.6 505.1L841.6 502.7L832.5 500.7L823.4 498.9L814.3 497.2L805.1 495.8L795.9 494.7L786.7 493.7L777.4 493.0L768.1 492.5L758.9 492.2L749.6 492.1L740.3 492.1L731.0 492.1Z" fill="#76777a"/>
<path d="M731.0 491.3L740.3 491.3L749.6 491.3L758.9 491.4L768.2 491.7L777.5 492.2L786.8 492.9L796.0 493.8L805.3 495.0L814.5 496.4L823.6 498.0L832.7 499.9L841.8 501.9L850.8 504.3L859.7 506.9L868.5 510.0L877.2 513.3L885.7 517.1L894.1 521.2L902.3 525.5L910.4 530.0L918.4 534.8L926.2 539.9L933.7 545.4L941.0 551.2L947.9 557.4L954.6 563.9L961.2 570.5L967.7 577.1L974.3 583.7L980.8 590.3L987.4 596.8L994.0 603.4L1000.6 610.0L1007.2 616.6L1013.7 623.1L1012.0 624.9L1005.5 618.3L998.9 611.8L992.4 605.3L985.9 598.7L979.3 592.2L972.8 585.6L966.3 579.1L959.8 572.5L953.2 565.9L946.6 559.5L939.7 553.4L932.5 547.6L925.0 542.2L917.3 537.1L909.3 532.3L901.3 527.8L893.1 523.5L884.8 519.4L876.3 515.7L867.7 512.3L859.0 509.3L850.1 506.7L841.2 504.4L832.1 502.3L823.1 500.5L814.0 498.9L804.8 497.5L795.6 496.3L786.4 495.4L777.2 494.7L768.0 494.2L758.7 493.9L749.5 493.8L740.2 493.8L731.0 493.8Z" fill="#7b7c7f"/>
<path d="M731.0 493.0L740.3 493.0L749.5 493.0L758.8 493.1L768.1 493.3L777.3 493.8L786.6 494.6L795.8 495.5L805.0 496.7L814.1 498.1L823.3 499.7L832.3 501.5L841.4 503.6L850.3 505.9L859.2 508.5L868.0 511.5L876.6 514.9L885.1 518.6L893.4 522.7L901.6 527.0L909.7 531.6L917.6 536.3L925.4 541.4L932.9 546.8L940.1 552.7L947.1 558.8L953.7 565.2L960.2 571.8L966.8 578.4L973.3 585.0L979.8 591.5L986.4 598.1L992.9 604.6L999.5 611.2L1006.0 617.7L1012.6 624.3L1010.9 626.0L1004.4 619.5L997.9 613.0L991.3 606.5L984.8 600.0L978.3 593.5L971.8 586.9L965.3 580.4L958.8 573.9L952.3 567.3L945.7 560.9L938.8 554.8L931.6 549.1L924.2 543.6L916.5 538.6L908.6 533.8L900.6 529.3L892.4 525.0L884.2 521.0L875.7 517.3L867.2 513.9L858.5 510.9L849.6 508.3L840.7 506.0L831.7 503.9L822.7 502.1L813.6 500.5L804.5 499.2L795.4 498.0L786.2 497.1L777.0 496.3L767.8 495.8L758.6 495.6L749.4 495.5L740.2 495.5L731.0 495.5Z" fill="#818285"/>
<path d="M731.0 494.6L740.2 494.6L749.5 494.6L758.7 494.7L767.9 495.0L777.1 495.5L786.3 496.2L795.5 497.2L804.7 498.3L813.8 499.7L822.9 501.3L831.9 503.1L840.9 505.2L849.9 507.5L858.7 510.1L867.4 513.1L876.0 516.5L884.5 520.2L892.8 524.2L900.9 528.5L909.0 533.1L916.9 537.8L924.6 542.9L932.1 548.3L939.3 554.1L946.2 560.2L952.8 566.6L959.3 573.2L965.8 579.7L972.3 586.3L978.8 592.8L985.4 599.3L991.9 605.9L998.4 612.4L1004.9 618.9L1011.5 625.4L1009.7 627.2L1003.3 620.7L996.8 614.2L990.3 607.7L983.8 601.2L977.3 594.7L970.8 588.2L964.4 581.8L957.9 575.2L951.4 568.7L944.8 562.3L938.0 556.3L930.8 550.5L923.4 545.1L915.7 540.1L907.9 535.4L899.9 530.8L891.8 526.6L883.5 522.5L875.2 518.8L866.6 515.5L857.9 512.5L849.1 509.9L840.3 507.6L831.3 505.6L822.3 503.8L813.3 502.2L804.2 500.8L795.1 499.7L786.0 498.7L776.8 498.0L767.7 497.5L758.5 497.2L749.3 497.2L740.2 497.2L731.0 497.2Z" fill="#87888b"/>
<path d="M731.0 496.3L740.2 496.3L749.4 496.3L758.6 496.4L767.8 496.7L776.9 497.2L786.1 497.9L795.3 498.8L804.4 500.0L813.5 501.4L822.5 503.0L831.5 504.8L840.5 506.8L849.4 509.1L858.2 511.7L866.9 514.7L875.4 518.1L883.9 521.8L892.1 525.8L900.2 530.1L908.2 534.6L916.1 539.4L923.8 544.4L931.2 549.8L938.4 555.5L945.3 561.6L951.9 568.0L958.4 574.6L964.8 581.1L971.3 587.6L977.8 594.1L984.3 600.6L990.8 607.1L997.3 613.6L1003.8 620.1L1010.3 626.6L1008.6 628.3L1002.1 621.9L995.7 615.4L989.2 608.9L982.8 602.5L976.3 596.0L969.8 589.6L963.4 583.1L957.0 576.6L950.5 570.1L944.0 563.8L937.1 557.7L930.0 552.0L922.6 546.6L915.0 541.6L907.2 536.9L899.2 532.4L891.1 528.1L882.9 524.1L874.6 520.4L866.1 517.1L857.4 514.1L848.7 511.5L839.8 509.2L830.9 507.2L822.0 505.4L813.0 503.8L803.9 502.5L794.9 501.3L785.8 500.4L776.7 499.7L767.5 499.2L758.4 498.9L749.3 498.8L740.1 498.8L731.0 498.8Z" fill="#8d8e91"/>
<path d="M731.0 498.0L740.2 498.0L749.3 498.0L758.5 498.1L767.6 498.4L776.8 498.8L785.9 499.6L795.0 500.5L804.1 501.6L813.1 503.0L822.1 504.6L831.1 506.4L840.0 508.4L848.9 510.7L857.7 513.3L866.3 516.3L874.9 519.6L883.2 523.3L891.5 527.3L899.6 531.6L907.5 536.1L915.3 540.9L923.0 545.9L930.4 551.3L937.5 557.0L944.4 563.1L951.0 569.4L957.4 575.9L963.9 582.4L970.3 588.9L976.8 595.4L983.3 601.9L989.7 608.3L996.2 614.8L1002.7 621.3L1009.2 627.7L1007.5 629.5L1001.0 623.0L994.6 616.6L988.1 610.2L981.7 603.7L975.3 597.3L968.9 590.9L962.4 584.4L956.0 578.0L949.6 571.5L943.1 565.2L936.2 559.2L929.2 553.5L921.8 548.1L914.2 543.1L906.4 538.4L898.5 533.9L890.5 529.6L882.3 525.7L874.0 522.0L865.5 518.7L856.9 515.7L848.2 513.1L839.4 510.9L830.5 508.8L821.6 507.1L812.6 505.5L803.6 504.1L794.6 503.0L785.5 502.1L776.5 501.4L767.4 500.9L758.3 500.6L749.2 500.5L740.1 500.5L731.0 500.5Z" fill="#939497"/>
<path d="M731.0 499.7L740.1 499.7L749.2 499.7L758.4 499.8L767.5 500.0L776.6 500.5L785.7 501.2L794.7 502.2L803.8 503.3L812.8 504.7L821.8 506.2L830.7 508.0L839.6 510.0L848.4 512.3L857.2 514.9L865.8 517.9L874.3 521.2L882.6 524.9L890.8 528.9L898.9 533.1L906.8 537.6L914.6 542.4L922.2 547.4L929.6 552.7L936.7 558.4L943.5 564.5L950.1 570.8L956.5 577.3L962.9 583.8L969.3 590.2L975.8 596.7L982.2 603.1L988.7 609.6L995.1 616.0L1001.6 622.5L1008.0 628.9L1006.3 630.6L999.9 624.2L993.5 617.8L987.1 611.4L980.7 605.0L974.3 598.6L967.9 592.2L961.5 585.8L955.1 579.3L948.7 572.9L942.2 566.6L935.4 560.6L928.3 555.0L921.0 549.6L913.4 544.6L905.7 539.9L897.8 535.4L889.8 531.2L881.7 527.2L873.4 523.5L865.0 520.2L856.4 517.3L847.7 514.7L838.9 512.5L830.1 510.5L821.2 508.7L812.3 507.1L803.3 505.8L794.3 504.6L785.3 503.7L776.3 503.0L767.2 502.5L758.2 502.3L749.1 502.2L740.1 502.2L731.0 502.2Z" fill="#999a9d"/>
<path d="M731.0 501.4L740.1 501.4L749.2 501.4L758.2 501.4L767.3 501.7L776.4 502.2L785.4 502.9L794.5 503.8L803.5 505.0L812.4 506.3L821.4 507.9L830.3 509.7L839.2 511.7L847.9 513.9L856.6 516.5L865.2 519.5L873.7 522.8L882.0 526.4L890.2 530.4L898.2 534.7L906.1 539.2L913.8 543.9L921.4 548.9L928.7 554.2L935.8 559.9L942.6 565.9L949.2 572.2L955.6 578.6L962.0 585.1L968.4 591.5L974.8 597.9L981.2 604.4L987.6 610.8L994.0 617.2L1000.5 623.6L1006.9 630.0L1005.2 631.8L998.8 625.4L992.4 619.0L986.0 612.6L979.6 606.3L973.3 599.9L966.9 593.5L960.5 587.1L954.1 580.7L947.8 574.3L941.3 568.0L934.5 562.1L927.5 556.4L920.2 551.1L912.7 546.1L905.0 541.4L897.1 537.0L889.2 532.7L881.1 528.8L872.8 525.1L864.4 521.8L855.9 518.9L847.2 516.3L838.5 514.1L829.7 512.1L820.8 510.3L811.9 508.8L803.0 507.4L794.1 506.3L785.1 505.4L776.1 504.7L767.1 504.2L758.1 504.0L749.0 503.9L740.0 503.9L731.0 503.9Z" fill="#9e9fa2"/>
<path d="M731.0 503.0L740.0 503.0L749.1 503.0L758.1 503.1L767.2 503.4L776.2 503.9L785.2 504.6L794.2 505.5L803.2 506.6L812.1 508.0L821.0 509.5L829.9 511.3L838.7 513.3L847.5 515.5L856.1 518.1L864.7 521.0L873.1 524.3L881.4 528.0L889.5 532.0L897.5 536.2L905.3 540.7L913.0 545.4L920.6 550.4L927.9 555.7L935.0 561.3L941.7 567.3L948.2 573.6L954.6 580.0L961.0 586.4L967.4 592.8L973.8 599.2L980.2 605.6L986.6 612.0L992.9 618.4L999.3 624.8L1005.7 631.2L1004.0 632.9L997.7 626.6L991.3 620.2L985.0 613.9L978.6 607.5L972.2 601.2L965.9 594.8L959.6 588.4L953.2 582.1L946.9 575.7L940.4 569.4L933.7 563.5L926.7 557.9L919.4 552.6L911.9 547.6L904.2 543.0L896.4 538.5L888.5 534.3L880.4 530.3L872.2 526.7L863.9 523.4L855.4 520.5L846.7 518.0L838.0 515.7L829.3 513.7L820.5 512.0L811.6 510.4L802.7 509.1L793.8 508.0L784.9 507.1L775.9 506.4L766.9 505.9L758.0 505.6L749.0 505.6L740.0 505.6L731.0 505.6Z" fill="#a4a5a8"/>
<path d="M731.0 504.7L740.0 504.7L749.0 504.7L758.0 504.8L767.0 505.1L776.0 505.5L785.0 506.2L793.9 507.1L802.9 508.3L811.8 509.6L820.6 511.2L829.5 512.9L838.3 514.9L847.0 517.1L855.6 519.7L864.1 522.6L872.5 525.9L880.8 529.5L888.8 533.5L896.8 537.7L904.6 542.2L912.3 546.9L919.8 551.9L927.1 557.2L934.1 562.8L940.9 568.7L947.3 575.0L953.7 581.4L960.0 587.8L966.4 594.1L972.8 600.5L979.1 606.9L985.5 613.2L991.9 619.6L998.2 626.0L1004.6 632.3L1002.9 634.1L996.5 627.7L990.2 621.4L983.9 615.1L977.6 608.8L971.2 602.4L964.9 596.1L958.6 589.8L952.3 583.4L946.0 577.1L939.5 570.9L932.8 565.0L925.8 559.4L918.6 554.1L911.1 549.2L903.5 544.5L895.7 540.0L887.9 535.8L879.8 531.9L871.6 528.3L863.3 525.0L854.8 522.1L846.3 519.6L837.6 517.3L828.9 515.4L820.1 513.6L811.3 512.1L802.4 510.8L793.5 509.6L784.6 508.7L775.7 508.0L766.8 507.6L757.8 507.3L748.9 507.2L739.9 507.2L731.0 507.2Z" fill="#a9aaad"/>
<path d="M731.0 506.4L740.0 506.4L748.9 506.4L757.9 506.5L766.9 506.7L775.8 507.2L784.8 507.9L793.7 508.8L802.6 509.9L811.4 511.3L820.3 512.8L829.1 514.6L837.8 516.5L846.5 518.8L855.1 521.3L863.6 524.2L871.9 527.5L880.1 531.1L888.2 535.1L896.1 539.3L903.9 543.7L911.5 548.4L919.0 553.4L926.2 558.6L933.2 564.2L940.0 570.2L946.4 576.4L952.7 582.7L959.1 589.1L965.4 595.5L971.7 601.8L978.1 608.1L984.4 614.5L990.8 620.8L997.1 627.2L1003.4 633.5L1001.7 635.2L995.4 628.9L989.1 622.6L982.8 616.3L976.5 610.0L970.2 603.7L963.9 597.4L957.6 591.1L951.3 584.8L945.1 578.5L938.7 572.3L932.0 566.4L925.0 560.8L917.8 555.6L910.4 550.7L902.8 546.0L895.1 541.6L887.2 537.4L879.2 533.4L871.1 529.8L862.8 526.6L854.3 523.7L845.8 521.2L837.2 519.0L828.5 517.0L819.7 515.3L810.9 513.7L802.1 512.4L793.3 511.3L784.4 510.4L775.5 509.7L766.6 509.2L757.7 509.0L748.8 508.9L739.9 508.9L731.0 508.9Z" fill="#afb0b2"/>
<path d="M731.0 508.1L739.9 508.1L748.9 508.1L757.8 508.1L766.7 508.4L775.6 508.9L784.5 509.6L793.4 510.5L802.3 511.6L811.1 512.9L819.9 514.5L828.7 516.2L837.4 518.1L846.0 520.4L854.6 522.9L863.0 525.8L871.3 529.0L879.5 532.7L887.5 536.6L895.4 540.8L903.1 545.2L910.8 549.9L918.2 554.9L925.4 560.1L932.4 565.7L939.1 571.6L945.5 577.8L951.8 584.1L958.1 590.4L964.4 596.8L970.7 603.1L977.0 609.4L983.4 615.7L989.7 622.0L996.0 628.3L1002.3 634.6L1000.6 636.4L994.3 630.1L988.0 623.8L981.8 617.6L975.5 611.3L969.2 605.0L962.9 598.7L956.7 592.4L950.4 586.2L944.1 579.9L937.8 573.7L931.1 567.9L924.2 562.3L917.0 557.1L909.6 552.2L902.1 547.5L894.4 543.1L886.5 538.9L878.6 535.0L870.5 531.4L862.2 528.2L853.8 525.3L845.3 522.8L836.7 520.6L828.0 518.6L819.3 516.9L810.6 515.4L801.8 514.1L793.0 513.0L784.2 512.1L775.4 511.4L766.5 510.9L757.6 510.7L748.7 510.6L739.9 510.6L731.0 510.6Z" fill="#b4b5b8"/>
<path d="M731.0 509.8L739.9 509.8L748.8 509.8L757.7 509.8L766.6 510.1L775.4 510.5L784.3 511.2L793.2 512.1L802.0 513.2L810.8 514.6L819.5 516.1L828.3 517.8L836.9 519.8L845.5 522.0L854.1 524.5L862.5 527.4L870.8 530.6L878.9 534.2L886.9 538.1L894.7 542.3L902.4 546.8L910.0 551.4L917.4 556.3L924.6 561.6L931.5 567.1L938.2 573.0L944.6 579.2L950.9 585.5L957.2 591.8L963.4 598.1L969.7 604.4L976.0 610.6L982.3 616.9L988.6 623.2L994.9 629.5L1001.2 635.8L999.4 637.5L993.2 631.3L986.9 625.0L980.7 618.8L974.4 612.5L968.2 606.3L962.0 600.0L955.7 593.8L949.5 587.5L943.2 581.3L936.9 575.1L930.2 569.3L923.3 563.8L916.2 558.6L908.8 553.7L901.3 549.0L893.7 544.6L885.9 540.5L878.0 536.6L869.9 533.0L861.7 529.7L853.3 526.9L844.8 524.4L836.3 522.2L827.6 520.3L819.0 518.6L810.3 517.0L801.5 515.7L792.8 514.6L784.0 513.7L775.2 513.0L766.3 512.6L757.5 512.3L748.7 512.3L739.8 512.3L731.0 512.3Z" fill="#babbbd"/>
<path d="M731.0 511.4L739.9 511.4L748.7 511.4L757.6 511.5L766.4 511.7L775.3 512.2L784.1 512.9L792.9 513.8L801.7 514.9L810.4 516.2L819.2 517.7L827.8 519.5L836.5 521.4L845.1 523.6L853.6 526.1L861.9 529.0L870.2 532.2L878.3 535.8L886.2 539.7L894.0 543.9L901.7 548.3L909.2 552.9L916.6 557.8L923.7 563.1L930.7 568.6L937.3 574.4L943.7 580.6L949.9 586.8L956.2 593.1L962.4 599.4L968.7 605.6L975.0 611.9L981.2 618.2L987.5 624.4L993.7 630.7L1000.0 636.9L998.3 638.7L992.1 632.5L985.9 626.2L979.6 620.0L973.4 613.8L967.2 607.6L961.0 601.3L954.8 595.1L948.5 588.9L942.3 582.7L936.0 576.5L929.4 570.7L922.5 565.3L915.4 560.1L908.1 555.2L900.6 550.6L893.0 546.2L885.2 542.0L877.3 538.1L869.3 534.5L861.1 531.3L852.8 528.5L844.3 526.0L835.8 523.8L827.2 521.9L818.6 520.2L809.9 518.7L801.2 517.4L792.5 516.3L783.7 515.4L775.0 514.7L766.2 514.3L757.4 514.0L748.6 514.0L739.8 514.0L731.0 514.0Z" fill="#bfc0c2"/>
<path d="M731.0 513.1L739.8 513.1L748.6 513.1L757.5 513.2L766.3 513.4L775.1 513.9L783.9 514.6L792.6 515.4L801.4 516.6L810.1 517.9L818.8 519.4L827.4 521.1L836.0 523.0L844.6 525.2L853.0 527.7L861.4 530.5L869.6 533.8L877.6 537.3L885.6 541.2L893.3 545.4L901.0 549.8L908.5 554.4L915.8 559.3L922.9 564.5L929.8 570.0L936.4 575.8L942.8 582.0L949.0 588.2L955.2 594.4L961.5 600.7L967.7 606.9L973.9 613.2L980.2 619.4L986.4 625.6L992.6 631.9L998.9 638.1L997.1 639.8L991.0 633.6L984.8 627.4L978.6 621.2L972.4 615.0L966.2 608.8L960.0 602.7L953.8 596.5L947.6 590.3L941.4 584.0L935.1 578.0L928.5 572.2L921.7 566.7L914.6 561.6L907.3 556.7L899.9 552.1L892.3 547.7L884.6 543.5L876.7 539.7L868.7 536.1L860.6 532.9L852.3 530.1L843.9 527.6L835.4 525.4L826.8 523.5L818.2 521.8L809.6 520.3L800.9 519.0L792.2 517.9L783.5 517.1L774.8 516.4L766.0 515.9L757.3 515.7L748.5 515.6L739.8 515.6L731.0 515.6Z" fill="#c4c5c7"/>
<path d="M731.0 514.8L739.8 514.8L748.6 514.8L757.3 514.9L766.1 515.1L774.9 515.5L783.6 516.2L792.4 517.1L801.1 518.2L809.8 519.5L818.4 521.0L827.0 522.7L835.6 524.6L844.1 526.8L852.5 529.3L860.8 532.1L869.0 535.3L877.0 538.9L884.9 542.8L892.6 546.9L900.2 551.3L907.7 555.9L915.0 560.8L922.1 566.0L929.0 571.5L935.6 577.2L941.9 583.4L948.1 589.6L954.3 595.8L960.5 602.0L966.7 608.2L972.9 614.4L979.1 620.6L985.3 626.8L991.5 633.0L997.7 639.2L996.0 641.0L989.8 634.8L983.7 628.6L977.5 622.5L971.3 616.3L965.2 610.1L959.0 604.0L952.8 597.8L946.7 591.6L940.5 585.4L934.2 579.4L927.7 573.6L920.8 568.2L913.8 563.1L906.5 558.2L899.1 553.6L891.6 549.2L883.9 545.1L876.1 541.2L868.1 537.7L860.0 534.5L851.8 531.7L843.4 529.2L834.9 527.1L826.4 525.2L817.9 523.5L809.3 522.0L800.6 520.7L792.0 519.6L783.3 518.7L774.6 518.1L765.9 517.6L757.2 517.4L748.4 517.3L739.7 517.3L731.0 517.3Z" fill="#cacbcd"/>
<path d="M731.0 516.5L739.7 516.5L748.5 516.5L757.2 516.5L766.0 516.8L774.7 517.2L783.4 517.9L792.1 518.8L800.8 519.9L809.4 521.2L818.0 522.7L826.6 524.3L835.2 526.3L843.6 528.4L852.0 530.9L860.3 533.7L868.4 536.9L876.4 540.5L884.2 544.3L891.9 548.5L899.5 552.8L906.9 557.5L914.2 562.3L921.3 567.5L928.1 572.9L934.7 578.7L941.0 584.7L947.1 590.9L953.3 597.1L959.5 603.3L965.7 609.5L971.9 615.7L978.0 621.9L984.2 628.0L990.4 634.2L996.6 640.4L994.9 642.1L988.7 636.0L982.6 629.8L976.4 623.7L970.3 617.6L964.2 611.4L958.0 605.3L951.9 599.1L945.7 593.0L939.6 586.8L933.4 580.8L926.8 575.1L920.0 569.7L913.0 564.6L905.8 559.7L898.4 555.1L890.9 550.8L883.3 546.6L875.5 542.8L867.5 539.3L859.5 536.1L851.2 533.3L842.9 530.8L834.5 528.7L826.0 526.8L817.5 525.1L808.9 523.6L800.3 522.3L791.7 521.3L783.1 520.4L774.4 519.7L765.7 519.3L757.1 519.0L748.4 519.0L739.7 519.0L731.0 519.0Z" fill="#cfd0d2"/>
<path d="M731.0 518.2L739.7 518.2L748.4 518.2L757.1 518.2L765.8 518.4L774.5 518.9L783.2 519.6L791.8 520.4L800.5 521.5L809.1 522.8L817.7 524.3L826.2 526.0L834.7 527.9L843.1 530.0L851.5 532.5L859.7 535.3L867.8 538.5L875.8 542.0L883.6 545.9L891.3 550.0L898.8 554.4L906.2 559.0L913.4 563.8L920.4 568.9L927.2 574.4L933.8 580.1L940.1 586.1L946.2 592.3L952.4 598.5L958.5 604.6L964.7 610.8L970.8 616.9L977.0 623.1L983.1 629.2L989.3 635.4L995.4 641.5L993.7 643.3L987.6 637.2L981.5 631.0L975.4 624.9L969.3 618.8L963.1 612.7L957.0 606.6L950.9 600.5L944.8 594.3L938.7 588.2L932.5 582.2L925.9 576.5L919.2 571.2L912.2 566.1L905.0 561.2L897.7 556.6L890.2 552.3L882.6 548.2L874.9 544.3L867.0 540.8L858.9 537.7L850.7 534.9L842.4 532.4L834.0 530.3L825.6 528.4L817.1 526.8L808.6 525.3L800.0 524.0L791.5 522.9L782.9 522.1L774.2 521.4L765.6 521.0L756.9 520.7L748.3 520.7L739.6 520.7L731.0 520.7Z" fill="#d5d6d7"/>
<path d="M731.0 519.8L739.7 519.8L748.3 519.8L757.0 519.9L765.7 520.1L774.3 520.6L783.0 521.2L791.6 522.1L800.2 523.2L808.8 524.5L817.3 525.9L825.8 527.6L834.3 529.5L842.7 531.6L851.0 534.1L859.2 536.9L867.2 540.0L875.2 543.6L882.9 547.4L890.6 551.5L898.1 555.9L905.4 560.5L912.6 565.3L919.6 570.4L926.4 575.8L932.9 581.5L939.1 587.5L945.3 593.7L951.4 599.8L957.5 605.9L963.6 612.1L969.8 618.2L975.9 624.3L982.0 630.4L988.2 636.6L994.3 642.7L992.6 644.4L986.5 638.3L980.4 632.2L974.3 626.2L968.2 620.1L962.1 614.0L956.0 607.9L950.0 601.8L943.9 595.7L937.8 589.6L931.6 583.6L925.1 578.0L918.3 572.6L911.4 567.6L904.3 562.7L897.0 558.2L889.5 553.8L881.9 549.7L874.2 545.9L866.4 542.4L858.4 539.2L850.2 536.5L841.9 534.0L833.6 531.9L825.2 530.1L816.7 528.4L808.3 526.9L799.7 525.7L791.2 524.6L782.6 523.7L774.0 523.1L765.4 522.6L756.8 522.4L748.2 522.4L739.6 522.4L731.0 522.4Z" fill="#dadbdc"/>
<path d="M731.0 521.5L739.6 521.5L748.3 521.5L756.9 521.6L765.5 521.8L774.1 522.2L782.7 522.9L791.3 523.8L799.9 524.8L808.4 526.1L816.9 527.6L825.4 529.2L833.8 531.1L842.2 533.2L850.5 535.7L858.6 538.5L866.7 541.6L874.5 545.1L882.3 549.0L889.9 553.1L897.3 557.4L904.6 562.0L911.8 566.8L918.8 571.9L925.5 577.3L932.0 582.9L938.2 588.9L944.3 595.0L950.4 601.1L956.5 607.2L962.6 613.3L968.7 619.4L974.8 625.5L980.9 631.6L987.0 637.7L993.1 643.8L992.0 645.0L985.9 638.9L979.8 632.8L973.8 626.8L967.7 620.7L961.6 614.6L955.5 608.5L949.5 602.5L943.4 596.4L937.3 590.3L931.1 584.3L924.7 578.7L917.9 573.4L911.0 568.3L903.9 563.5L896.6 558.9L889.2 554.6L881.6 550.5L873.9 546.7L866.1 543.2L858.1 540.0L849.9 537.3L841.7 534.8L833.4 532.7L825.0 530.9L816.6 529.2L808.1 527.8L799.6 526.5L791.1 525.4L782.5 524.6L773.9 523.9L765.4 523.5L756.8 523.2L748.2 523.2L739.6 523.2L731.0 523.2Z" fill="#dfe0e1"/>
<path d="M731.0 372.0L737.1 372.0L743.1 372.0L749.2 372.0L755.3 372.1L761.3 372.2L767.4 372.3L773.5 372.6L779.5 372.9L785.6 373.2L791.7 373.6L797.7 374.1L803.8 374.7L809.8 375.3L815.8 376.0L821.8 376.8L827.8 377.6L833.8 378.6L839.8 379.6L845.8 380.7L851.8 381.8L857.7 383.1L863.6 384.4L869.5 385.9L875.4 387.4L881.2 389.0L887.1 390.7L892.9 392.5L898.6 394.4L904.4 396.4L910.1 398.4L915.7 400.6L921.4 402.9L927.0 405.3L932.5 407.7L938.0 410.3L943.5 412.9L949.0 415.5L954.4 418.2L959.8 420.9L965.2 423.7L970.6 426.5L975.9 429.5L981.1 432.6L986.2 435.9L991.1 439.5L995.9 443.2L1000.5 447.2L1005.0 451.2L1009.4 455.4L1013.8 459.6L1018.1 463.9L1022.4 468.2L1026.6 472.6L1030.8 476.9L1035.0 481.3L1039.3 485.6L1043.5 490.0L1047.8 494.3L1052.1 498.6L1056.4 502.9L1060.7 507.2L1065.0 511.5L1069.2 515.7L1073.5 520.0L1077.8 524.3L1082.1 528.6L1086.4 532.9L1090.7 537.2L1095.0 541.5" fill="none" stroke="#231f20" stroke-width="5.9" stroke-linejoin="round"/>
<path d="M731.0 523.2L735.4 523.2L739.7 523.2L744.1 523.2L748.4 523.2L752.8 523.2L757.2 523.2L761.5 523.3L765.9 523.5L770.2 523.7L774.6 523.9L778.9 524.3L783.3 524.6L787.6 525.0L791.9 525.5L796.3 526.0L800.6 526.6L804.9 527.3L809.2 527.9L813.5 528.7L817.8 529.5L822.1 530.3L826.3 531.2L830.6 532.1L834.8 533.1L839.1 534.1L843.3 535.3L847.4 536.5L851.6 537.8L855.7 539.2L859.8 540.7L863.9 542.3L867.9 544.0L871.9 545.7L875.8 547.6L879.7 549.5L883.6 551.5L887.4 553.6L891.2 555.8L895.0 558.0L898.7 560.2L902.4 562.5L906.1 564.9L909.7 567.4L913.2 569.9L916.7 572.5L920.2 575.1L923.6 577.8L926.9 580.6L930.2 583.5L933.4 586.5L936.5 589.5L939.6 592.6L942.7 595.7L945.8 598.8L948.9 601.9L951.9 604.9L955.0 608.0L958.1 611.1L961.2 614.2L964.3 617.3L967.3 620.3L970.4 623.4L973.5 626.5L976.6 629.6L979.7 632.7L982.8 635.8L985.8 638.8L988.9 641.9L992.0 645.0" fill="none" stroke="#231f20" stroke-width="5.9" stroke-linejoin="round"/>
<!-- cylinder -->
<rect x="612.8" y="339.5" width="118.1" height="211.8" fill="url(#gCyl)" stroke="#231f20" stroke-width="6"/>
<!-- shoulder -->
<path d="M435 257C450 260.5 462 270.5 472 284.5C478 293.5 484 304 497 304.2V591.9C484 592 478 603.5 472 609C462 621 450 631 435 635Z" fill="url(#gSh)" stroke="#231f20" stroke-width="6"/>
<!-- body -->
<path d="M52 228.8H409.5C419 228.8 435 245.5 435 257V634C435 646 419 662 409.5 662H52C44.4 662 38.2 648 38.2 630V260C38.2 243 44.4 228.8 52 228.8Z" fill="url(#gBody)" stroke="#231f20" stroke-width="6.1"/>
<clipPath id="cpR"><rect x="398.7" y="225" width="40" height="441"/></clipPath>
<path d="M52 228.8H409.5C419 228.8 435 245.5 435 257V634C435 646 419 662 409.5 662H52Z" fill="#fff" fill-opacity="0.17" clip-path="url(#cpR)"/>
<path d="M52 228.8H409.5C419 228.8 435 245.5 435 257V634C435 646 419 662 409.5 662H52" fill="none" stroke="#231f20" stroke-width="6.1"/>
<path d="M398.7 229V662" stroke="#231f20" stroke-width="6.4"/>
<!-- collar -->
<clipPath id="cc1"><path d="M492.4 304.2L526 305.9C533 306.5 537.1 311 537.1 318V573C537.1 582 533 589.5 526 590L492.4 592.3Z"/></clipPath><clipPath id="cc2"><path d="M537.1 314.3H555C564 314.3 569.2 320 569.4 329V559C568 571 562 575.3 552 575.3H537.1Z"/></clipPath>
<path d="M492.4 304.2L526 305.9C533 306.5 537.1 311 537.1 318V573C537.1 582 533 589.5 526 590L492.4 592.3Z" fill="#b3b4b7"/><path d="M537.1 314.3H555C564 314.3 569.2 320 569.4 329V559C568 571 562 575.3 552 575.3H537.1Z" fill="#b3b4b7"/>
<linearGradient id="gB00" gradientUnits="userSpaceOnUse" x1="492.4" y1="304" x2="537.1" y2="336.3"><stop offset="0" stop-color="#a0a1a4"/><stop offset="0.4" stop-color="#c3c4c6"/><stop offset="0.65" stop-color="#c9cacc"/><stop offset="1" stop-color="#a4a5a8"/></linearGradient>
<rect x="492.4" y="304" width="44.7" height="32.3" fill="url(#gB00)" clip-path="url(#cc1)"/>
<linearGradient id="gB01" gradientUnits="userSpaceOnUse" x1="537.1" y1="304" x2="569.8" y2="336.3"><stop offset="0" stop-color="#b8b9bb"/><stop offset="1" stop-color="#9a9b9e"/></linearGradient>
<rect x="537.1" y="304" width="32.7" height="32.3" fill="url(#gB01)" clip-path="url(#cc2)"/>
<linearGradient id="gB10" gradientUnits="userSpaceOnUse" x1="492.4" y1="346.5" x2="532.6" y2="434.8"><stop offset="0" stop-color="#7c7d80"/><stop offset="0.45" stop-color="#a3a4a7"/><stop offset="0.7" stop-color="#b5b6b8"/><stop offset="0.9" stop-color="#b6b7b9"/><stop offset="1" stop-color="#aaabae"/></linearGradient>
<rect x="492.4" y="346.5" width="44.7" height="88.3" fill="url(#gB10)" clip-path="url(#cc1)"/>
<linearGradient id="gB11" gradientUnits="userSpaceOnUse" x1="537.1" y1="346.5" x2="566.5" y2="434.8"><stop offset="0" stop-color="#8e8f92"/><stop offset="0.5" stop-color="#a8a9ac"/><stop offset="1" stop-color="#b5b6b8"/></linearGradient>
<rect x="537.1" y="346.5" width="32.7" height="88.3" fill="url(#gB11)" clip-path="url(#cc2)"/>
<linearGradient id="gB20" gradientUnits="userSpaceOnUse" x1="492.4" y1="446.5" x2="532.6" y2="541.3"><stop offset="0" stop-color="#a6a7aa"/><stop offset="0.28" stop-color="#bebfc1"/><stop offset="0.48" stop-color="#c2c3c5"/><stop offset="1" stop-color="#7c7d80"/></linearGradient>
<rect x="492.4" y="446.5" width="44.7" height="94.8" fill="url(#gB20)" clip-path="url(#cc1)"/>
<linearGradient id="gB21" gradientUnits="userSpaceOnUse" x1="537.1" y1="446.5" x2="566.5" y2="541.3"><stop offset="0" stop-color="#b0b1b3"/><stop offset="0.3" stop-color="#bcbdbf"/><stop offset="0.5" stop-color="#bebfc1"/><stop offset="1" stop-color="#86878a"/></linearGradient>
<rect x="537.1" y="446.5" width="32.7" height="94.8" fill="url(#gB21)" clip-path="url(#cc2)"/>
<linearGradient id="gB30" gradientUnits="userSpaceOnUse" x1="492.4" y1="552.2" x2="537.1" y2="593"><stop offset="0" stop-color="#8e8f92"/><stop offset="0.5" stop-color="#b9babc"/><stop offset="1" stop-color="#d0d1d3"/></linearGradient>
<rect x="492.4" y="552.2" width="44.7" height="40.8" fill="url(#gB30)" clip-path="url(#cc1)"/>
<linearGradient id="gB31" gradientUnits="userSpaceOnUse" x1="537.1" y1="552.2" x2="569.8" y2="593"><stop offset="0" stop-color="#a0a1a4"/><stop offset="1" stop-color="#cfd0d2"/></linearGradient>
<rect x="537.1" y="552.2" width="32.7" height="40.8" fill="url(#gB31)" clip-path="url(#cc2)"/>
<path d="M492.4 304.2L526 305.9C533 306.5 537.1 311 537.1 318V573C537.1 582 533 589.5 526 590L492.4 592.3Z" fill="none" stroke="#231f20" stroke-width="6" stroke-linejoin="round"/>
<path d="M537.1 314.3H555C564 314.3 569.2 320 569.4 329V559C568 571 562 575.3 552 575.3H537.1Z" fill="none" stroke="#231f20" stroke-width="6" stroke-linejoin="round"/>
<path d="M492.4 336.3H569.8" stroke="#231f20" stroke-width="5.8"/>
<path d="M492.4 346.5H569.8" stroke="#231f20" stroke-width="5.8"/>
<path d="M492.4 434.8H569.8" stroke="#231f20" stroke-width="5.8"/>
<path d="M492.4 446.5H569.8" stroke="#231f20" stroke-width="5.8"/>
<path d="M492.4 541.3H569.8" stroke="#231f20" stroke-width="5.8"/>
<path d="M492.4 552.2H569.8" stroke="#231f20" stroke-width="5.8"/>
<linearGradient id="gN0" gradientUnits="userSpaceOnUse" x1="571" y1="0" x2="610" y2="0"><stop offset="0" stop-color="#babbbd"/><stop offset="0.5" stop-color="#c4c5c7"/><stop offset="1" stop-color="#d6d7d9"/></linearGradient><linearGradient id="gN1" gradientUnits="userSpaceOnUse" x1="0" y1="291" x2="0" y2="362"><stop offset="0" stop-color="#bcbdbf"/><stop offset="0.5" stop-color="#b1b2b5"/><stop offset="1" stop-color="#cbccce"/></linearGradient><linearGradient id="gN2" gradientUnits="userSpaceOnUse" x1="0" y1="362" x2="0" y2="509"><stop offset="0" stop-color="#bfc0c2"/><stop offset="0.25" stop-color="#c6c7c9"/><stop offset="0.6" stop-color="#b1b2b5"/><stop offset="1" stop-color="#a0a1a4"/></linearGradient><linearGradient id="gN3" gradientUnits="userSpaceOnUse" x1="0" y1="509" x2="0" y2="597"><stop offset="0" stop-color="#6a6b6e"/><stop offset="0.7" stop-color="#8c8d90"/><stop offset="1" stop-color="#a0a1a4"/></linearGradient>
<path d="M573.5 291H604.3L610.3 334V556L608 596.5H573.5L571 560V330Z" fill="url(#gN0)" stroke="#231f20" stroke-width="6.2" stroke-linejoin="round"/>
<path d="M574 291L581.5 362.3H597.3L604 291Z" fill="url(#gN1)" stroke="#231f20" stroke-width="5.6" stroke-linejoin="round"/>
<path d="M581.5 362.3Q570.5 436 582.3 509H598.3Q610 436 597.3 362.3Z" fill="url(#gN2)" stroke="#231f20" stroke-width="5.6" stroke-linejoin="round"/>
<path d="M582.3 509Q576.5 555 574 596.5H607Q604.5 555 598.3 509Z" fill="url(#gN3)" stroke="#231f20" stroke-width="5.6" stroke-linejoin="round"/>
<!-- nut45 -->
<g transform="translate(1109 660.5) rotate(45)" stroke="#231f20" stroke-width="6.5" stroke-linejoin="miter">
<path d="M-88 -174.5 C-96.7 -159.5 -102 -144.5 -102 -120.5 L-102 120.5 C-102 144.5 -96.7 159.5 -88 174.5 L90.5 174.5 L103.5 123.5 Q104.5 118.5 104.5 111.5 L104.5 -111.5 Q104.5 -118.5 103.5 -123.5 L90.5 -174.5Z" fill="#c6c7c9"/>
<path d="M-88 -174.5 Q-101.0 -133.4 -88 -92.4 L90.5 -92.4 Q97.5 -133.4 90.5 -174.5Z" fill="url(#gF1)" stroke-width="6.2" stroke-linejoin="bevel"/>
<path d="M-88 -174.5 Q-101.0 -133.4 -88 -92.4 L90.5 -92.4 Q97.5 -133.4 90.5 -174.5Z" fill="url(#gF1o)" stroke="none"/>
<path d="M-88 -174.5 Q-101.0 -133.4 -88 -92.4 L90.5 -92.4 Q97.5 -133.4 90.5 -174.5Z" fill="none" stroke-width="6.2" stroke-linejoin="bevel"/>
<path d="M-88 -92.4 Q-111.0 -7.7 -88 77 L90.5 77 Q108.5 -7.7 90.5 -92.4Z" fill="url(#gF2)" stroke-width="6.2" stroke-linejoin="bevel"/>
<path d="M-88 77 Q-102.0 125.8 -88 174.5 L90.5 174.5 Q97.5 125.8 90.5 77Z" fill="url(#gF3)" stroke-width="6.2" stroke-linejoin="bevel"/>
</g>
</svg>
</body></html>
